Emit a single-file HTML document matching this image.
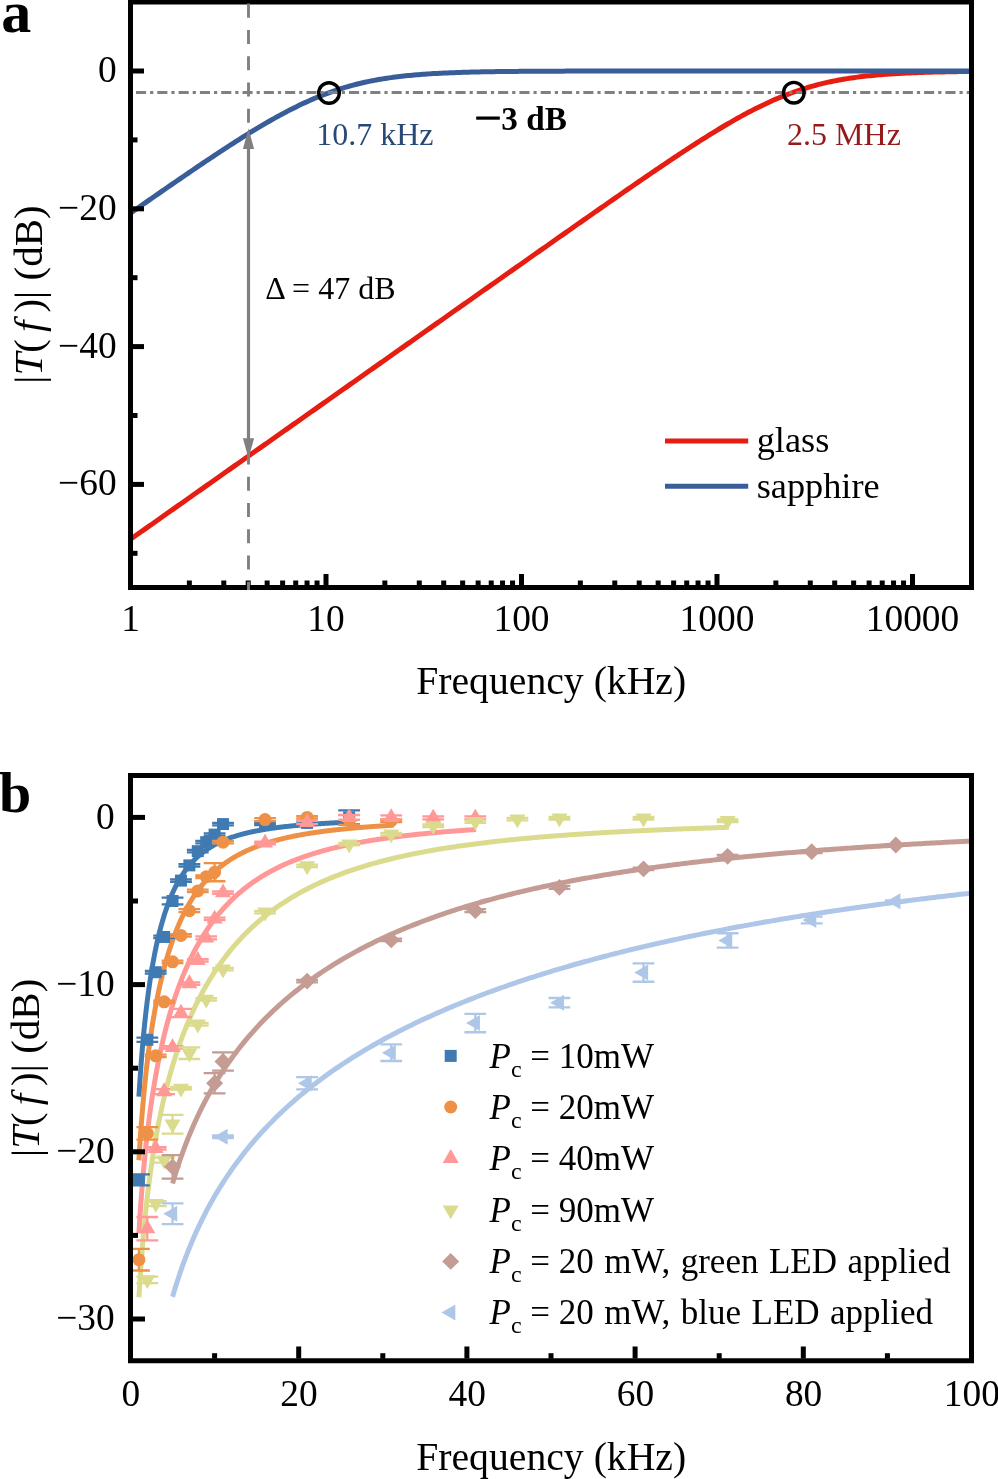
<!DOCTYPE html>
<html><head><meta charset="utf-8"><title>Figure</title>
<style>html,body{margin:0;padding:0;background:#fff;}body{width:998px;height:1479px;overflow:hidden;font-family:"Liberation Serif",serif;}</style>
</head><body>
<svg width="998" height="1479" viewBox="0 0 998 1479" style="display:block;will-change:transform">
<rect x="0" y="0" width="998" height="1479" fill="#ffffff"/>
<path d="M130.50 539.24 L132.60 537.75 L134.70 536.27 L136.81 534.79 L138.91 533.31 L141.01 531.83 L143.11 530.35 L145.21 528.86 L147.32 527.38 L149.42 525.90 L151.52 524.42 L153.62 522.94 L155.73 521.46 L157.83 519.97 L159.93 518.49 L162.03 517.01 L164.13 515.53 L166.24 514.05 L168.34 512.57 L170.44 511.08 L172.54 509.60 L174.64 508.12 L176.75 506.64 L178.85 505.16 L180.95 503.68 L183.05 502.19 L185.16 500.71 L187.26 499.23 L189.36 497.75 L191.46 496.27 L193.56 494.79 L195.67 493.30 L197.77 491.82 L199.87 490.34 L201.97 488.86 L204.07 487.38 L206.18 485.89 L208.28 484.41 L210.38 482.93 L212.48 481.45 L214.59 479.97 L216.69 478.49 L218.79 477.00 L220.89 475.52 L222.99 474.04 L225.10 472.56 L227.20 471.08 L229.30 469.60 L231.40 468.11 L233.50 466.63 L235.61 465.15 L237.71 463.67 L239.81 462.19 L241.91 460.71 L244.01 459.22 L246.12 457.74 L248.22 456.26 L250.32 454.78 L252.42 453.30 L254.53 451.82 L256.63 450.33 L258.73 448.85 L260.83 447.37 L262.93 445.89 L265.04 444.41 L267.14 442.93 L269.24 441.44 L271.34 439.96 L273.44 438.48 L275.55 437.00 L277.65 435.52 L279.75 434.04 L281.85 432.55 L283.96 431.07 L286.06 429.59 L288.16 428.11 L290.26 426.63 L292.36 425.15 L294.47 423.66 L296.57 422.18 L298.67 420.70 L300.77 419.22 L302.87 417.74 L304.98 416.25 L307.08 414.77 L309.18 413.29 L311.28 411.81 L313.39 410.33 L315.49 408.85 L317.59 407.36 L319.69 405.88 L321.79 404.40 L323.90 402.92 L326.00 401.44 L328.10 399.96 L330.20 398.47 L332.30 396.99 L334.41 395.51 L336.51 394.03 L338.61 392.55 L340.71 391.07 L342.81 389.58 L344.92 388.10 L347.02 386.62 L349.12 385.14 L351.22 383.66 L353.33 382.18 L355.43 380.69 L357.53 379.21 L359.63 377.73 L361.73 376.25 L363.84 374.77 L365.94 373.29 L368.04 371.80 L370.14 370.32 L372.24 368.84 L374.35 367.36 L376.45 365.88 L378.55 364.40 L380.65 362.91 L382.76 361.43 L384.86 359.95 L386.96 358.47 L389.06 356.99 L391.16 355.51 L393.27 354.03 L395.37 352.54 L397.47 351.06 L399.57 349.58 L401.67 348.10 L403.78 346.62 L405.88 345.14 L407.98 343.65 L410.08 342.17 L412.19 340.69 L414.29 339.21 L416.39 337.73 L418.49 336.25 L420.59 334.77 L422.70 333.28 L424.80 331.80 L426.90 330.32 L429.00 328.84 L431.10 327.36 L433.21 325.88 L435.31 324.40 L437.41 322.91 L439.51 321.43 L441.62 319.95 L443.72 318.47 L445.82 316.99 L447.92 315.51 L450.02 314.03 L452.13 312.54 L454.23 311.06 L456.33 309.58 L458.43 308.10 L460.53 306.62 L462.64 305.14 L464.74 303.66 L466.84 302.18 L468.94 300.70 L471.04 299.21 L473.15 297.73 L475.25 296.25 L477.35 294.77 L479.45 293.29 L481.56 291.81 L483.66 290.33 L485.76 288.85 L487.86 287.37 L489.96 285.89 L492.07 284.41 L494.17 282.93 L496.27 281.45 L498.37 279.97 L500.47 278.49 L502.58 277.01 L504.68 275.52 L506.78 274.04 L508.88 272.56 L510.99 271.08 L513.09 269.61 L515.19 268.13 L517.29 266.65 L519.39 265.17 L521.50 263.69 L523.60 262.21 L525.70 260.73 L527.80 259.25 L529.90 257.77 L532.01 256.29 L534.11 254.81 L536.21 253.33 L538.31 251.86 L540.42 250.38 L542.52 248.90 L544.62 247.42 L546.72 245.95 L548.82 244.47 L550.93 242.99 L553.03 241.51 L555.13 240.04 L557.23 238.56 L559.33 237.08 L561.44 235.61 L563.54 234.13 L565.64 232.66 L567.74 231.18 L569.84 229.71 L571.95 228.23 L574.05 226.76 L576.15 225.29 L578.25 223.81 L580.36 222.34 L582.46 220.87 L584.56 219.40 L586.66 217.93 L588.76 216.46 L590.87 214.99 L592.97 213.52 L595.07 212.05 L597.17 210.58 L599.27 209.11 L601.38 207.65 L603.48 206.18 L605.58 204.72 L607.68 203.25 L609.79 201.79 L611.89 200.33 L613.99 198.86 L616.09 197.40 L618.19 195.94 L620.30 194.49 L622.40 193.03 L624.50 191.57 L626.60 190.12 L628.70 188.66 L630.81 187.21 L632.91 185.76 L635.01 184.31 L637.11 182.87 L639.22 181.42 L641.32 179.98 L643.42 178.53 L645.52 177.09 L647.62 175.66 L649.73 174.22 L651.83 172.79 L653.93 171.36 L656.03 169.93 L658.13 168.50 L660.24 167.08 L662.34 165.66 L664.44 164.24 L666.54 162.83 L668.64 161.41 L670.75 160.01 L672.85 158.60 L674.95 157.20 L677.05 155.81 L679.16 154.41 L681.26 153.02 L683.36 151.64 L685.46 150.26 L687.56 148.89 L689.67 147.52 L691.77 146.15 L693.87 144.79 L695.97 143.44 L698.07 142.09 L700.18 140.75 L702.28 139.42 L704.38 138.09 L706.48 136.77 L708.59 135.46 L710.69 134.15 L712.79 132.85 L714.89 131.56 L716.99 130.28 L719.10 129.01 L721.20 127.74 L723.30 126.49 L725.40 125.24 L727.50 124.01 L729.61 122.79 L731.71 121.57 L733.81 120.37 L735.91 119.18 L738.02 118.00 L740.12 116.83 L742.22 115.68 L744.32 114.53 L746.42 113.40 L748.53 112.29 L750.63 111.19 L752.73 110.10 L754.83 109.03 L756.93 107.97 L759.04 106.92 L761.14 105.90 L763.24 104.88 L765.34 103.89 L767.44 102.91 L769.55 101.94 L771.65 101.00 L773.75 100.07 L775.85 99.16 L777.96 98.26 L780.06 97.38 L782.16 96.53 L784.26 95.68 L786.36 94.86 L788.47 94.06 L790.57 93.27 L792.67 92.50 L794.77 91.75 L796.87 91.02 L798.98 90.30 L801.08 89.61 L803.18 88.93 L805.28 88.27 L807.39 87.63 L809.49 87.01 L811.59 86.40 L813.69 85.82 L815.79 85.25 L817.90 84.69 L820.00 84.16 L822.10 83.64 L824.20 83.14 L826.30 82.65 L828.41 82.18 L830.51 81.73 L832.61 81.29 L834.71 80.87 L836.82 80.46 L838.92 80.06 L841.02 79.68 L843.12 79.32 L845.22 78.96 L847.33 78.62 L849.43 78.30 L851.53 77.98 L853.63 77.68 L855.73 77.39 L857.84 77.11 L859.94 76.84 L862.04 76.58 L864.14 76.34 L866.24 76.10 L868.35 75.87 L870.45 75.65 L872.55 75.45 L874.65 75.25 L876.76 75.05 L878.86 74.87 L880.96 74.69 L883.06 74.53 L885.16 74.36 L887.27 74.21 L889.37 74.06 L891.47 73.92 L893.57 73.79 L895.67 73.66 L897.78 73.53 L899.88 73.42 L901.98 73.30 L904.08 73.20 L906.19 73.10 L908.29 73.00 L910.39 72.90 L912.49 72.81 L914.59 72.73 L916.70 72.65 L918.80 72.57 L920.90 72.50 L923.00 72.43 L925.10 72.36 L927.21 72.29 L929.31 72.23 L931.41 72.17 L933.51 72.12 L935.62 72.07 L937.72 72.02 L939.82 71.97 L941.92 71.92 L944.02 71.88 L946.13 71.84 L948.23 71.80 L950.33 71.76 L952.43 71.72 L954.53 71.69 L956.64 71.65 L958.74 71.62 L960.84 71.59 L962.94 71.56 L965.04 71.54 L967.15 71.51 L969.25 71.49 L971.35 71.46" fill="none" stroke="#e61e12" stroke-width="5" stroke-linejoin="round"/>
<path d="M130.50 213.11 L132.60 211.64 L134.70 210.17 L136.81 208.71 L138.91 207.24 L141.01 205.77 L143.11 204.31 L145.21 202.84 L147.32 201.38 L149.42 199.92 L151.52 198.46 L153.62 197.00 L155.73 195.54 L157.83 194.08 L159.93 192.62 L162.03 191.17 L164.13 189.71 L166.24 188.26 L168.34 186.81 L170.44 185.36 L172.54 183.91 L174.64 182.46 L176.75 181.02 L178.85 179.58 L180.95 178.13 L183.05 176.69 L185.16 175.26 L187.26 173.82 L189.36 172.39 L191.46 170.96 L193.56 169.53 L195.67 168.11 L197.77 166.68 L199.87 165.26 L201.97 163.85 L204.07 162.43 L206.18 161.02 L208.28 159.62 L210.38 158.21 L212.48 156.81 L214.59 155.42 L216.69 154.03 L218.79 152.64 L220.89 151.26 L222.99 149.88 L225.10 148.51 L227.20 147.14 L229.30 145.77 L231.40 144.42 L233.50 143.07 L235.61 141.72 L237.71 140.38 L239.81 139.05 L241.91 137.72 L244.01 136.40 L246.12 135.09 L248.22 133.79 L250.32 132.49 L252.42 131.21 L254.53 129.93 L256.63 128.66 L258.73 127.39 L260.83 126.14 L262.93 124.90 L265.04 123.67 L267.14 122.45 L269.24 121.24 L271.34 120.04 L273.44 118.85 L275.55 117.67 L277.65 116.51 L279.75 115.36 L281.85 114.22 L283.96 113.09 L286.06 111.98 L288.16 110.88 L290.26 109.80 L292.36 108.73 L294.47 107.68 L296.57 106.64 L298.67 105.61 L300.77 104.60 L302.87 103.61 L304.98 102.64 L307.08 101.68 L309.18 100.74 L311.28 99.81 L313.39 98.91 L315.49 98.02 L317.59 97.14 L319.69 96.29 L321.79 95.45 L323.90 94.63 L326.00 93.83 L328.10 93.05 L330.20 92.29 L332.30 91.54 L334.41 90.82 L336.51 90.11 L338.61 89.42 L340.71 88.75 L342.81 88.09 L344.92 87.46 L347.02 86.84 L349.12 86.24 L351.22 85.66 L353.33 85.09 L355.43 84.54 L357.53 84.01 L359.63 83.50 L361.73 83.00 L363.84 82.52 L365.94 82.05 L368.04 81.60 L370.14 81.17 L372.24 80.75 L374.35 80.35 L376.45 79.95 L378.55 79.58 L380.65 79.22 L382.76 78.87 L384.86 78.53 L386.96 78.21 L389.06 77.90 L391.16 77.60 L393.27 77.31 L395.37 77.03 L397.47 76.77 L399.57 76.51 L401.67 76.27 L403.78 76.04 L405.88 75.81 L407.98 75.60 L410.08 75.39 L412.19 75.19 L414.29 75.00 L416.39 74.82 L418.49 74.65 L420.59 74.48 L422.70 74.32 L424.80 74.17 L426.90 74.02 L429.00 73.88 L431.10 73.75 L433.21 73.62 L435.31 73.50 L437.41 73.39 L439.51 73.27 L441.62 73.17 L443.72 73.07 L445.82 72.97 L447.92 72.88 L450.02 72.79 L452.13 72.71 L454.23 72.63 L456.33 72.55 L458.43 72.48 L460.53 72.41 L462.64 72.34 L464.74 72.28 L466.84 72.22 L468.94 72.16 L471.04 72.10 L473.15 72.05 L475.25 72.00 L477.35 71.95 L479.45 71.91 L481.56 71.87 L483.66 71.82 L485.76 71.78 L487.86 71.75 L489.96 71.71 L492.07 71.68 L494.17 71.65 L496.27 71.61 L498.37 71.58 L500.47 71.56 L502.58 71.53 L504.68 71.50 L506.78 71.48 L508.88 71.46 L510.99 71.44 L513.09 71.41 L515.19 71.39 L517.29 71.38 L519.39 71.36 L521.50 71.34 L523.60 71.32 L525.70 71.31 L527.80 71.29 L529.90 71.28 L532.01 71.27 L534.11 71.25 L536.21 71.24 L538.31 71.23 L540.42 71.22 L542.52 71.21 L544.62 71.20 L546.72 71.19 L548.82 71.18 L550.93 71.17 L553.03 71.16 L555.13 71.15 L557.23 71.15 L559.33 71.14 L561.44 71.13 L563.54 71.13 L565.64 71.12 L567.74 71.12 L569.84 71.11 L571.95 71.10 L574.05 71.10 L576.15 71.09 L578.25 71.09 L580.36 71.09 L582.46 71.08 L584.56 71.08 L586.66 71.07 L588.76 71.07 L590.87 71.07 L592.97 71.06 L595.07 71.06 L597.17 71.06 L599.27 71.05 L601.38 71.05 L603.48 71.05 L605.58 71.05 L607.68 71.04 L609.79 71.04 L611.89 71.04 L613.99 71.04 L616.09 71.04 L618.19 71.04 L620.30 71.03 L622.40 71.03 L624.50 71.03 L626.60 71.03 L628.70 71.03 L630.81 71.03 L632.91 71.02 L635.01 71.02 L637.11 71.02 L639.22 71.02 L641.32 71.02 L643.42 71.02 L645.52 71.02 L647.62 71.02 L649.73 71.02 L651.83 71.02 L653.93 71.02 L656.03 71.01 L658.13 71.01 L660.24 71.01 L662.34 71.01 L664.44 71.01 L666.54 71.01 L668.64 71.01 L670.75 71.01 L672.85 71.01 L674.95 71.01 L677.05 71.01 L679.16 71.01 L681.26 71.01 L683.36 71.01 L685.46 71.01 L687.56 71.01 L689.67 71.01 L691.77 71.01 L693.87 71.01 L695.97 71.01 L698.07 71.01 L700.18 71.01 L702.28 71.00 L704.38 71.00 L706.48 71.00 L708.59 71.00 L710.69 71.00 L712.79 71.00 L714.89 71.00 L716.99 71.00 L719.10 71.00 L721.20 71.00 L723.30 71.00 L725.40 71.00 L727.50 71.00 L729.61 71.00 L731.71 71.00 L733.81 71.00 L735.91 71.00 L738.02 71.00 L740.12 71.00 L742.22 71.00 L744.32 71.00 L746.42 71.00 L748.53 71.00 L750.63 71.00 L752.73 71.00 L754.83 71.00 L756.93 71.00 L759.04 71.00 L761.14 71.00 L763.24 71.00 L765.34 71.00 L767.44 71.00 L769.55 71.00 L771.65 71.00 L773.75 71.00 L775.85 71.00 L777.96 71.00 L780.06 71.00 L782.16 71.00 L784.26 71.00 L786.36 71.00 L788.47 71.00 L790.57 71.00 L792.67 71.00 L794.77 71.00 L796.87 71.00 L798.98 71.00 L801.08 71.00 L803.18 71.00 L805.28 71.00 L807.39 71.00 L809.49 71.00 L811.59 71.00 L813.69 71.00 L815.79 71.00 L817.90 71.00 L820.00 71.00 L822.10 71.00 L824.20 71.00 L826.30 71.00 L828.41 71.00 L830.51 71.00 L832.61 71.00 L834.71 71.00 L836.82 71.00 L838.92 71.00 L841.02 71.00 L843.12 71.00 L845.22 71.00 L847.33 71.00 L849.43 71.00 L851.53 71.00 L853.63 71.00 L855.73 71.00 L857.84 71.00 L859.94 71.00 L862.04 71.00 L864.14 71.00 L866.24 71.00 L868.35 71.00 L870.45 71.00 L872.55 71.00 L874.65 71.00 L876.76 71.00 L878.86 71.00 L880.96 71.00 L883.06 71.00 L885.16 71.00 L887.27 71.00 L889.37 71.00 L891.47 71.00 L893.57 71.00 L895.67 71.00 L897.78 71.00 L899.88 71.00 L901.98 71.00 L904.08 71.00 L906.19 71.00 L908.29 71.00 L910.39 71.00 L912.49 71.00 L914.59 71.00 L916.70 71.00 L918.80 71.00 L920.90 71.00 L923.00 71.00 L925.10 71.00 L927.21 71.00 L929.31 71.00 L931.41 71.00 L933.51 71.00 L935.62 71.00 L937.72 71.00 L939.82 71.00 L941.92 71.00 L944.02 71.00 L946.13 71.00 L948.23 71.00 L950.33 71.00 L952.43 71.00 L954.53 71.00 L956.64 71.00 L958.74 71.00 L960.84 71.00 L962.94 71.00 L965.04 71.00 L967.15 71.00 L969.25 71.00 L971.35 71.00" fill="none" stroke="#385d98" stroke-width="5" stroke-linejoin="round"/>
<line x1="136" y1="92.5" x2="969" y2="92.5" stroke="#808080" stroke-width="2.8" stroke-dasharray="10.1 4 3.2 4"/>
<rect x="130.50" y="2.00" width="841.00" height="585.50" fill="none" stroke="#000" stroke-width="5"/>
<rect x="133" y="68.50" width="11" height="5" fill="#000"/>
<rect x="133" y="206.30" width="11" height="5" fill="#000"/>
<rect x="133" y="344.10" width="11" height="5" fill="#000"/>
<rect x="133" y="481.90" width="11" height="5" fill="#000"/>
<rect x="133" y="137.40" width="4.5" height="5" fill="#000"/>
<rect x="133" y="275.20" width="4.5" height="5" fill="#000"/>
<rect x="133" y="413.00" width="4.5" height="5" fill="#000"/>
<rect x="133" y="550.80" width="4.5" height="5" fill="#000"/>
<rect x="186.85" y="580.5" width="5" height="5" fill="#000"/>
<rect x="221.28" y="580.5" width="5" height="5" fill="#000"/>
<rect x="245.70" y="580.5" width="5" height="5" fill="#000"/>
<rect x="264.65" y="580.5" width="5" height="5" fill="#000"/>
<rect x="280.13" y="580.5" width="5" height="5" fill="#000"/>
<rect x="293.22" y="580.5" width="5" height="5" fill="#000"/>
<rect x="304.55" y="580.5" width="5" height="5" fill="#000"/>
<rect x="314.55" y="580.5" width="5" height="5" fill="#000"/>
<rect x="323.50" y="574" width="5" height="12" fill="#000"/>
<rect x="382.35" y="580.5" width="5" height="5" fill="#000"/>
<rect x="416.78" y="580.5" width="5" height="5" fill="#000"/>
<rect x="441.20" y="580.5" width="5" height="5" fill="#000"/>
<rect x="460.15" y="580.5" width="5" height="5" fill="#000"/>
<rect x="475.63" y="580.5" width="5" height="5" fill="#000"/>
<rect x="488.72" y="580.5" width="5" height="5" fill="#000"/>
<rect x="500.05" y="580.5" width="5" height="5" fill="#000"/>
<rect x="510.05" y="580.5" width="5" height="5" fill="#000"/>
<rect x="519.00" y="574" width="5" height="12" fill="#000"/>
<rect x="577.85" y="580.5" width="5" height="5" fill="#000"/>
<rect x="612.28" y="580.5" width="5" height="5" fill="#000"/>
<rect x="636.70" y="580.5" width="5" height="5" fill="#000"/>
<rect x="655.65" y="580.5" width="5" height="5" fill="#000"/>
<rect x="671.13" y="580.5" width="5" height="5" fill="#000"/>
<rect x="684.22" y="580.5" width="5" height="5" fill="#000"/>
<rect x="695.55" y="580.5" width="5" height="5" fill="#000"/>
<rect x="705.55" y="580.5" width="5" height="5" fill="#000"/>
<rect x="714.50" y="574" width="5" height="12" fill="#000"/>
<rect x="773.35" y="580.5" width="5" height="5" fill="#000"/>
<rect x="807.78" y="580.5" width="5" height="5" fill="#000"/>
<rect x="832.20" y="580.5" width="5" height="5" fill="#000"/>
<rect x="851.15" y="580.5" width="5" height="5" fill="#000"/>
<rect x="866.63" y="580.5" width="5" height="5" fill="#000"/>
<rect x="879.72" y="580.5" width="5" height="5" fill="#000"/>
<rect x="891.05" y="580.5" width="5" height="5" fill="#000"/>
<rect x="901.05" y="580.5" width="5" height="5" fill="#000"/>
<rect x="910.00" y="574" width="5" height="12" fill="#000"/>
<line x1="248.50" y1="3.6" x2="248.50" y2="590" stroke="#808080" stroke-width="2.9" stroke-dasharray="14.1 12.18"/>
<line x1="248.50" y1="140" x2="248.50" y2="445" stroke="#808080" stroke-width="3.2"/>
<path d="M248.50 128.5 L242.90 149 L254.10 149 Z" fill="#808080"/>
<path d="M248.50 458.5 L242.90 438.2 L254.10 438.2 Z" fill="#808080"/>
<circle cx="329" cy="93" r="10.3" fill="none" stroke="#000" stroke-width="3.4"/>
<circle cx="793.8" cy="92.7" r="10.3" fill="none" stroke="#000" stroke-width="3.4"/>
<text x="116.60" y="82.00" font-family='"Liberation Serif", serif' font-size="37.40" text-anchor="end" fill="#000" font-weight="normal" font-style="normal" >0</text>
<text x="116.60" y="219.80" font-family='"Liberation Serif", serif' font-size="37.40" text-anchor="end" fill="#000" font-weight="normal" font-style="normal" >−20</text>
<text x="116.60" y="357.60" font-family='"Liberation Serif", serif' font-size="37.40" text-anchor="end" fill="#000" font-weight="normal" font-style="normal" >−40</text>
<text x="116.60" y="495.40" font-family='"Liberation Serif", serif' font-size="37.40" text-anchor="end" fill="#000" font-weight="normal" font-style="normal" >−60</text>
<text x="130.50" y="630.80" font-family='"Liberation Serif", serif' font-size="37.40" text-anchor="middle" fill="#000" font-weight="normal" font-style="normal" >1</text>
<text x="326.00" y="630.80" font-family='"Liberation Serif", serif' font-size="37.40" text-anchor="middle" fill="#000" font-weight="normal" font-style="normal" >10</text>
<text x="521.50" y="630.80" font-family='"Liberation Serif", serif' font-size="37.40" text-anchor="middle" fill="#000" font-weight="normal" font-style="normal" >100</text>
<text x="717.00" y="630.80" font-family='"Liberation Serif", serif' font-size="37.40" text-anchor="middle" fill="#000" font-weight="normal" font-style="normal" >1000</text>
<text x="912.50" y="630.80" font-family='"Liberation Serif", serif' font-size="37.40" text-anchor="middle" fill="#000" font-weight="normal" font-style="normal" >10000</text>
<text x="551.20" y="693.80" font-family='"Liberation Serif", serif' font-size="39.70" text-anchor="middle" fill="#000" font-weight="normal" font-style="normal" >Frequency (kHz)</text>
<g transform="translate(41.50 294.50) rotate(-90)">
<text x="0" y="0" font-family='"Liberation Serif", serif' font-size="41" text-anchor="middle" fill="#000">|<tspan font-style="italic">T</tspan>(<tspan font-style="italic" dx="7">f</tspan><tspan dx="8">)</tspan>| (dB)</text>
</g>
<text x="316.20" y="144.70" font-family='"Liberation Serif", serif' font-size="32.00" text-anchor="start" fill="#284876" font-weight="normal" font-style="normal" >10.7 kHz</text>
<text x="787.10" y="144.70" font-family='"Liberation Serif", serif' font-size="32.00" text-anchor="start" fill="#961a1a" font-weight="normal" font-style="normal" >2.5 MHz</text>
<rect x="476.2" y="116.5" width="23.6" height="3.2" fill="#000"/>
<text x="501.30" y="129.60" font-family='"Liberation Serif", serif' font-size="33.20" text-anchor="start" fill="#000" font-weight="bold" font-style="normal" >3 dB</text>
<text x="265.30" y="299.40" font-family='"Liberation Serif", serif' font-size="32.00" text-anchor="start" fill="#000" font-weight="normal" font-style="normal" >Δ = 47 dB</text>
<line x1="665" y1="441.0" x2="748.2" y2="441.0" stroke="#e61e12" stroke-width="5"/>
<line x1="665" y1="486.3" x2="748.2" y2="486.3" stroke="#385d98" stroke-width="5"/>
<text x="756.70" y="452.10" font-family='"Liberation Serif", serif' font-size="36.30" text-anchor="start" fill="#000" font-weight="normal" font-style="normal" >glass</text>
<text x="756.70" y="497.70" font-family='"Liberation Serif", serif' font-size="36.30" text-anchor="start" fill="#000" font-weight="normal" font-style="normal" >sapphire</text>
<text x="1.30" y="32.20" font-family='"Liberation Serif", serif' font-size="60.00" text-anchor="start" fill="#000" font-weight="bold" font-style="normal" >a</text>
<clipPath id="cb"><rect x="127.50" y="775.50" width="844.00" height="585.25"/></clipPath>
<g clip-path="url(#cb)">
<path d="M138.91 1096.72 L139.61 1085.36 L140.31 1074.89 L141.01 1065.18 L141.71 1056.13 L142.41 1047.68 L143.12 1039.74 L143.82 1032.28 L144.52 1025.24 L145.22 1018.57 L145.92 1012.26 L146.62 1006.26 L147.32 1000.56 L148.02 995.13 L148.72 989.94 L149.42 984.99 L150.12 980.25 L150.82 975.71 L151.53 971.36 L152.23 967.19 L152.93 963.18 L153.63 959.33 L154.33 955.62 L155.03 952.05 L155.73 948.62 L156.43 945.31 L157.13 942.11 L157.83 939.03 L158.53 936.06 L159.23 933.19 L159.94 930.41 L160.64 927.73 L161.34 925.13 L162.04 922.62 L162.74 920.19 L163.44 917.84 L164.14 915.56 L164.84 913.36 L165.54 911.22 L166.24 909.14 L166.94 907.13 L167.64 905.18 L168.34 903.28 L169.05 901.45 L169.75 899.66 L170.45 897.93 L171.15 896.25 L171.85 894.61 L172.55 893.02 L173.25 891.48 L173.95 889.98 L174.65 888.52 L175.35 887.10 L176.05 885.72 L176.75 884.37 L177.46 883.07 L178.16 881.79 L178.86 880.55 L179.56 879.35 L180.26 878.17 L180.96 877.03 L181.66 875.91 L182.36 874.83 L183.06 873.77 L183.76 872.73 L184.46 871.73 L185.16 870.75 L185.87 869.79 L186.57 868.86 L187.27 867.95 L187.97 867.06 L188.67 866.19 L189.37 865.35 L190.07 864.52 L190.77 863.72 L191.47 862.93 L192.17 862.16 L192.87 861.41 L193.57 860.68 L194.28 859.96 L194.98 859.26 L195.68 858.58 L196.38 857.91 L197.08 857.26 L197.78 856.62 L198.48 855.99 L199.18 855.38 L199.88 854.79 L200.58 854.20 L201.28 853.63 L201.99 853.07 L202.69 852.53 L203.39 851.99 L204.09 851.47 L204.79 850.95 L205.49 850.45 L206.19 849.96 L206.89 849.48 L207.59 849.01 L208.29 848.55 L208.99 848.10 L209.69 847.65 L210.39 847.22 L211.10 846.80 L211.80 846.38 L212.50 845.97 L213.20 845.57 L213.90 845.18 L214.60 844.80 L215.30 844.42 L216.00 844.05 L216.70 843.69 L217.40 843.33 L218.10 842.99 L218.81 842.64 L219.51 842.31 L220.21 841.98 L220.91 841.66 L221.61 841.34 L222.31 841.03 L223.01 840.72 L223.71 840.42 L224.41 840.13 L225.11 839.84 L225.81 839.56 L226.51 839.28 L227.22 839.01 L227.92 838.74 L228.62 838.47 L229.32 838.22 L230.02 837.96 L230.72 837.71 L231.42 837.47 L232.12 837.22 L232.82 836.99 L233.52 836.75 L234.22 836.52 L234.92 836.30 L235.62 836.08 L236.33 835.86 L237.03 835.65 L237.73 835.44 L238.43 835.23 L239.13 835.02 L239.83 834.82 L240.53 834.63 L241.23 834.43 L241.93 834.24 L242.63 834.06 L243.33 833.87 L244.03 833.69 L244.74 833.51 L245.44 833.33 L246.14 833.16 L246.84 832.99 L247.54 832.82 L248.24 832.66 L248.94 832.50 L249.64 832.34 L250.34 832.18 L251.04 832.02 L251.74 831.87 L252.44 831.72 L253.15 831.57 L253.85 831.43 L254.55 831.28 L255.25 831.14 L255.95 831.00 L256.65 830.86 L257.35 830.73 L258.05 830.59 L258.75 830.46 L259.45 830.33 L260.15 830.20 L260.86 830.08 L261.56 829.95 L262.26 829.83 L262.96 829.71 L263.66 829.59 L264.36 829.47 L265.06 829.36 L265.76 829.25 L266.46 829.13 L267.16 829.02 L267.86 828.91 L268.56 828.80 L269.26 828.70 L269.97 828.59 L270.67 828.49 L271.37 828.39 L272.07 828.29 L272.77 828.19 L273.47 828.09 L274.17 827.99 L274.87 827.90 L275.57 827.80 L276.27 827.71 L276.97 827.62 L277.68 827.53 L278.38 827.44 L279.08 827.35 L279.78 827.26 L280.48 827.18 L281.18 827.09 L281.88 827.01 L282.58 826.92 L283.28 826.84 L283.98 826.76 L284.68 826.68 L285.38 826.60 L286.09 826.53 L286.79 826.45 L287.49 826.37 L288.19 826.30 L288.89 826.22 L289.59 826.15 L290.29 826.08 L290.99 826.01 L291.69 825.94 L292.39 825.87 L293.09 825.80 L293.79 825.73 L294.50 825.66 L295.20 825.60 L295.90 825.53 L296.60 825.47 L297.30 825.40 L298.00 825.34 L298.70 825.28 L299.40 825.22 L300.10 825.15 L300.80 825.09 L301.50 825.03 L302.20 824.97 L302.90 824.92 L303.61 824.86 L304.31 824.80 L305.01 824.75 L305.71 824.69 L306.41 824.63 L307.11 824.58 L307.81 824.53 L308.51 824.47 L309.21 824.42 L309.91 824.37 L310.61 824.32 L311.31 824.26 L312.02 824.21 L312.72 824.16 L313.42 824.11 L314.12 824.07 L314.82 824.02 L315.52 823.97 L316.22 823.92 L316.92 823.88 L317.62 823.83 L318.32 823.78 L319.02 823.74 L319.73 823.69 L320.43 823.65 L321.13 823.60 L321.83 823.56 L322.53 823.52 L323.23 823.48 L323.93 823.43 L324.63 823.39 L325.33 823.35 L326.03 823.31 L326.73 823.27 L327.43 823.23 L328.13 823.19 L328.84 823.15 L329.54 823.11 L330.24 823.07 L330.94 823.03 L331.64 823.00 L332.34 822.96 L333.04 822.92 L333.74 822.89 L334.44 822.85 L335.14 822.81 L335.84 822.78 L336.55 822.74 L337.25 822.71 L337.95 822.67 L338.65 822.64 L339.35 822.61 L340.05 822.57 L340.75 822.54 L341.45 822.51 L342.15 822.47 L342.85 822.44 L343.55 822.41 L344.25 822.38 L344.96 822.35 L345.66 822.31 L346.36 822.28 L347.06 822.25 L347.76 822.22 L348.46 822.19 L349.16 822.16" fill="none" stroke="#407ab2" stroke-width="5" stroke-linejoin="round"/>
<path d="M138.91 1160.23 L139.76 1146.39 L140.61 1133.79 L141.46 1122.24 L142.31 1111.57 L143.16 1101.67 L144.01 1092.44 L144.86 1083.79 L145.71 1075.67 L146.55 1068.01 L147.40 1060.78 L148.25 1053.92 L149.10 1047.40 L149.95 1041.20 L150.80 1035.29 L151.65 1029.65 L152.50 1024.25 L153.35 1019.08 L154.20 1014.12 L155.05 1009.36 L155.90 1004.78 L156.75 1000.38 L157.60 996.13 L158.45 992.04 L159.30 988.10 L160.15 984.29 L160.99 980.61 L161.84 977.05 L162.69 973.61 L163.54 970.28 L164.39 967.05 L165.24 963.92 L166.09 960.89 L166.94 957.95 L167.79 955.10 L168.64 952.33 L169.49 949.64 L170.34 947.02 L171.19 944.48 L172.04 942.01 L172.89 939.61 L173.74 937.27 L174.59 935.00 L175.43 932.78 L176.28 930.63 L177.13 928.53 L177.98 926.48 L178.83 924.49 L179.68 922.54 L180.53 920.65 L181.38 918.80 L182.23 917.00 L183.08 915.24 L183.93 913.53 L184.78 911.85 L185.63 910.22 L186.48 908.62 L187.33 907.07 L188.18 905.54 L189.03 904.06 L189.87 902.61 L190.72 901.19 L191.57 899.80 L192.42 898.45 L193.27 897.12 L194.12 895.83 L194.97 894.56 L195.82 893.32 L196.67 892.11 L197.52 890.93 L198.37 889.77 L199.22 888.63 L200.07 887.52 L200.92 886.44 L201.77 885.37 L202.62 884.33 L203.47 883.31 L204.31 882.31 L205.16 881.34 L206.01 880.38 L206.86 879.44 L207.71 878.52 L208.56 877.62 L209.41 876.74 L210.26 875.88 L211.11 875.03 L211.96 874.20 L212.81 873.39 L213.66 872.59 L214.51 871.81 L215.36 871.04 L216.21 870.29 L217.06 869.55 L217.91 868.83 L218.75 868.12 L219.60 867.42 L220.45 866.74 L221.30 866.07 L222.15 865.41 L223.00 864.77 L223.85 864.14 L224.70 863.51 L225.55 862.90 L226.40 862.31 L227.25 861.72 L228.10 861.14 L228.95 860.57 L229.80 860.02 L230.65 859.47 L231.50 858.93 L232.35 858.41 L233.19 857.89 L234.04 857.38 L234.89 856.88 L235.74 856.39 L236.59 855.91 L237.44 855.43 L238.29 854.97 L239.14 854.51 L239.99 854.06 L240.84 853.61 L241.69 853.18 L242.54 852.75 L243.39 852.33 L244.24 851.92 L245.09 851.51 L245.94 851.11 L246.79 850.72 L247.63 850.33 L248.48 849.95 L249.33 849.57 L250.18 849.20 L251.03 848.84 L251.88 848.48 L252.73 848.13 L253.58 847.79 L254.43 847.45 L255.28 847.11 L256.13 846.78 L256.98 846.46 L257.83 846.14 L258.68 845.83 L259.53 845.52 L260.38 845.21 L261.23 844.91 L262.07 844.62 L262.92 844.33 L263.77 844.04 L264.62 843.76 L265.47 843.48 L266.32 843.21 L267.17 842.94 L268.02 842.67 L268.87 842.41 L269.72 842.15 L270.57 841.90 L271.42 841.65 L272.27 841.40 L273.12 841.16 L273.97 840.92 L274.82 840.68 L275.67 840.45 L276.51 840.22 L277.36 839.99 L278.21 839.77 L279.06 839.55 L279.91 839.33 L280.76 839.12 L281.61 838.91 L282.46 838.70 L283.31 838.50 L284.16 838.29 L285.01 838.09 L285.86 837.90 L286.71 837.70 L287.56 837.51 L288.41 837.32 L289.26 837.14 L290.10 836.95 L290.95 836.77 L291.80 836.59 L292.65 836.42 L293.50 836.24 L294.35 836.07 L295.20 835.90 L296.05 835.73 L296.90 835.57 L297.75 835.41 L298.60 835.25 L299.45 835.09 L300.30 834.93 L301.15 834.77 L302.00 834.62 L302.85 834.47 L303.70 834.32 L304.54 834.18 L305.39 834.03 L306.24 833.89 L307.09 833.74 L307.94 833.60 L308.79 833.47 L309.64 833.33 L310.49 833.20 L311.34 833.06 L312.19 832.93 L313.04 832.80 L313.89 832.67 L314.74 832.55 L315.59 832.42 L316.44 832.30 L317.29 832.17 L318.14 832.05 L318.98 831.93 L319.83 831.82 L320.68 831.70 L321.53 831.58 L322.38 831.47 L323.23 831.36 L324.08 831.25 L324.93 831.14 L325.78 831.03 L326.63 830.92 L327.48 830.81 L328.33 830.71 L329.18 830.60 L330.03 830.50 L330.88 830.40 L331.73 830.30 L332.58 830.20 L333.42 830.10 L334.27 830.01 L335.12 829.91 L335.97 829.82 L336.82 829.72 L337.67 829.63 L338.52 829.54 L339.37 829.45 L340.22 829.36 L341.07 829.27 L341.92 829.18 L342.77 829.09 L343.62 829.01 L344.47 828.92 L345.32 828.84 L346.17 828.75 L347.02 828.67 L347.86 828.59 L348.71 828.51 L349.56 828.43 L350.41 828.35 L351.26 828.27 L352.11 828.20 L352.96 828.12 L353.81 828.04 L354.66 827.97 L355.51 827.89 L356.36 827.82 L357.21 827.75 L358.06 827.68 L358.91 827.61 L359.76 827.53 L360.61 827.47 L361.46 827.40 L362.30 827.33 L363.15 827.26 L364.00 827.19 L364.85 827.13 L365.70 827.06 L366.55 827.00 L367.40 826.93 L368.25 826.87 L369.10 826.80 L369.95 826.74 L370.80 826.68 L371.65 826.62 L372.50 826.56 L373.35 826.50 L374.20 826.44 L375.05 826.38 L375.90 826.32 L376.74 826.26 L377.59 826.21 L378.44 826.15 L379.29 826.09 L380.14 826.04 L380.99 825.98 L381.84 825.93 L382.69 825.87 L383.54 825.82 L384.39 825.77 L385.24 825.71 L386.09 825.66 L386.94 825.61 L387.79 825.56 L388.64 825.51 L389.49 825.46 L390.34 825.41 L391.18 825.36 L392.03 825.31 L392.88 825.26 L393.73 825.21" fill="none" stroke="#ee9146" stroke-width="5" stroke-linejoin="round"/>
<path d="M138.91 1233.31 L140.03 1215.16 L141.16 1199.05 L142.28 1184.57 L143.41 1171.43 L144.53 1159.40 L145.65 1148.31 L146.78 1138.04 L147.90 1128.47 L149.03 1119.51 L150.15 1111.10 L151.28 1103.17 L152.40 1095.67 L153.52 1088.57 L154.65 1081.82 L155.77 1075.39 L156.90 1069.26 L158.02 1063.40 L159.14 1057.79 L160.27 1052.41 L161.39 1047.25 L162.52 1042.28 L163.64 1037.51 L164.77 1032.90 L165.89 1028.46 L167.01 1024.18 L168.14 1020.04 L169.26 1016.03 L170.39 1012.16 L171.51 1008.40 L172.63 1004.77 L173.76 1001.24 L174.88 997.82 L176.01 994.49 L177.13 991.27 L178.25 988.13 L179.38 985.08 L180.50 982.11 L181.63 979.22 L182.75 976.41 L183.88 973.67 L185.00 971.00 L186.12 968.40 L187.25 965.87 L188.37 963.39 L189.50 960.98 L190.62 958.63 L191.74 956.33 L192.87 954.08 L193.99 951.89 L195.12 949.74 L196.24 947.65 L197.37 945.60 L198.49 943.60 L199.61 941.64 L200.74 939.73 L201.86 937.86 L202.99 936.03 L204.11 934.23 L205.23 932.48 L206.36 930.76 L207.48 929.08 L208.61 927.43 L209.73 925.81 L210.85 924.23 L211.98 922.68 L213.10 921.17 L214.23 919.68 L215.35 918.22 L216.48 916.79 L217.60 915.39 L218.72 914.01 L219.85 912.66 L220.97 911.34 L222.10 910.04 L223.22 908.77 L224.34 907.52 L225.47 906.30 L226.59 905.10 L227.72 903.92 L228.84 902.76 L229.97 901.62 L231.09 900.50 L232.21 899.41 L233.34 898.33 L234.46 897.27 L235.59 896.24 L236.71 895.22 L237.83 894.21 L238.96 893.23 L240.08 892.26 L241.21 891.31 L242.33 890.38 L243.45 889.46 L244.58 888.56 L245.70 887.67 L246.83 886.80 L247.95 885.95 L249.08 885.10 L250.20 884.28 L251.32 883.46 L252.45 882.66 L253.57 881.87 L254.70 881.10 L255.82 880.34 L256.94 879.59 L258.07 878.85 L259.19 878.13 L260.32 877.42 L261.44 876.71 L262.57 876.02 L263.69 875.34 L264.81 874.68 L265.94 874.02 L267.06 873.37 L268.19 872.73 L269.31 872.11 L270.43 871.49 L271.56 870.88 L272.68 870.28 L273.81 869.69 L274.93 869.11 L276.05 868.54 L277.18 867.98 L278.30 867.42 L279.43 866.88 L280.55 866.34 L281.68 865.81 L282.80 865.29 L283.92 864.78 L285.05 864.27 L286.17 863.77 L287.30 863.28 L288.42 862.80 L289.54 862.32 L290.67 861.85 L291.79 861.39 L292.92 860.93 L294.04 860.48 L295.16 860.04 L296.29 859.60 L297.41 859.17 L298.54 858.74 L299.66 858.32 L300.79 857.91 L301.91 857.50 L303.03 857.10 L304.16 856.71 L305.28 856.32 L306.41 855.93 L307.53 855.55 L308.65 855.18 L309.78 854.81 L310.90 854.44 L312.03 854.09 L313.15 853.73 L314.28 853.38 L315.40 853.04 L316.52 852.70 L317.65 852.36 L318.77 852.03 L319.90 851.70 L321.02 851.38 L322.14 851.06 L323.27 850.75 L324.39 850.44 L325.52 850.13 L326.64 849.83 L327.76 849.53 L328.89 849.24 L330.01 848.95 L331.14 848.66 L332.26 848.38 L333.39 848.10 L334.51 847.83 L335.63 847.55 L336.76 847.28 L337.88 847.02 L339.01 846.76 L340.13 846.50 L341.25 846.24 L342.38 845.99 L343.50 845.74 L344.63 845.49 L345.75 845.25 L346.88 845.01 L348.00 844.77 L349.12 844.54 L350.25 844.31 L351.37 844.08 L352.50 843.85 L353.62 843.63 L354.74 843.41 L355.87 843.19 L356.99 842.98 L358.12 842.76 L359.24 842.55 L360.36 842.35 L361.49 842.14 L362.61 841.94 L363.74 841.74 L364.86 841.54 L365.99 841.34 L367.11 841.15 L368.23 840.96 L369.36 840.77 L370.48 840.58 L371.61 840.40 L372.73 840.21 L373.85 840.03 L374.98 839.86 L376.10 839.68 L377.23 839.50 L378.35 839.33 L379.48 839.16 L380.60 838.99 L381.72 838.83 L382.85 838.66 L383.97 838.50 L385.10 838.34 L386.22 838.18 L387.34 838.02 L388.47 837.86 L389.59 837.71 L390.72 837.55 L391.84 837.40 L392.96 837.25 L394.09 837.10 L395.21 836.96 L396.34 836.81 L397.46 836.67 L398.59 836.53 L399.71 836.39 L400.83 836.25 L401.96 836.11 L403.08 835.98 L404.21 835.84 L405.33 835.71 L406.45 835.58 L407.58 835.45 L408.70 835.32 L409.83 835.19 L410.95 835.06 L412.08 834.94 L413.20 834.81 L414.32 834.69 L415.45 834.57 L416.57 834.45 L417.70 834.33 L418.82 834.21 L419.94 834.10 L421.07 833.98 L422.19 833.87 L423.32 833.76 L424.44 833.64 L425.56 833.53 L426.69 833.42 L427.81 833.31 L428.94 833.21 L430.06 833.10 L431.19 833.00 L432.31 832.89 L433.43 832.79 L434.56 832.69 L435.68 832.58 L436.81 832.48 L437.93 832.38 L439.05 832.29 L440.18 832.19 L441.30 832.09 L442.43 832.00 L443.55 831.90 L444.68 831.81 L445.80 831.71 L446.92 831.62 L448.05 831.53 L449.17 831.44 L450.30 831.35 L451.42 831.26 L452.54 831.17 L453.67 831.09 L454.79 831.00 L455.92 830.91 L457.04 830.83 L458.16 830.74 L459.29 830.66 L460.41 830.58 L461.54 830.50 L462.66 830.42 L463.79 830.34 L464.91 830.26 L466.03 830.18 L467.16 830.10 L468.28 830.02 L469.41 829.95 L470.53 829.87 L471.65 829.79 L472.78 829.72 L473.90 829.64 L475.03 829.57 L476.15 829.50" fill="none" stroke="#ff9896" stroke-width="5" stroke-linejoin="round"/>
<path d="M138.91 1297.22 L140.88 1266.75 L142.84 1241.61 L144.81 1220.21 L146.78 1201.60 L148.74 1185.12 L150.71 1170.36 L152.68 1156.99 L154.64 1144.77 L156.61 1133.54 L158.58 1123.14 L160.54 1113.46 L162.51 1104.42 L164.47 1095.94 L166.44 1087.95 L168.41 1080.41 L170.37 1073.27 L172.34 1066.50 L174.31 1060.05 L176.27 1053.91 L178.24 1048.05 L180.21 1042.44 L182.17 1037.07 L184.14 1031.92 L186.11 1026.97 L188.07 1022.21 L190.04 1017.64 L192.01 1013.22 L193.97 1008.97 L195.94 1004.87 L197.91 1000.90 L199.87 997.07 L201.84 993.36 L203.81 989.77 L205.77 986.29 L207.74 982.92 L209.71 979.65 L211.67 976.48 L213.64 973.40 L215.60 970.41 L217.57 967.50 L219.54 964.68 L221.50 961.93 L223.47 959.26 L225.44 956.66 L227.40 954.12 L229.37 951.66 L231.34 949.26 L233.30 946.91 L235.27 944.63 L237.24 942.41 L239.20 940.24 L241.17 938.12 L243.14 936.05 L245.10 934.04 L247.07 932.07 L249.04 930.15 L251.00 928.27 L252.97 926.44 L254.94 924.64 L256.90 922.89 L258.87 921.18 L260.84 919.51 L262.80 917.87 L264.77 916.27 L266.73 914.71 L268.70 913.18 L270.67 911.68 L272.63 910.22 L274.60 908.78 L276.57 907.38 L278.53 906.00 L280.50 904.66 L282.47 903.34 L284.43 902.05 L286.40 900.79 L288.37 899.55 L290.33 898.33 L292.30 897.15 L294.27 895.98 L296.23 894.84 L298.20 893.72 L300.17 892.62 L302.13 891.55 L304.10 890.49 L306.07 889.46 L308.03 888.45 L310.00 887.45 L311.97 886.48 L313.93 885.52 L315.90 884.58 L317.86 883.66 L319.83 882.76 L321.80 881.87 L323.76 881.00 L325.73 880.15 L327.70 879.31 L329.66 878.48 L331.63 877.68 L333.60 876.88 L335.56 876.10 L337.53 875.34 L339.50 874.59 L341.46 873.85 L343.43 873.12 L345.40 872.41 L347.36 871.71 L349.33 871.02 L351.30 870.35 L353.26 869.68 L355.23 869.03 L357.20 868.39 L359.16 867.76 L361.13 867.14 L363.10 866.53 L365.06 865.93 L367.03 865.35 L368.99 864.77 L370.96 864.20 L372.93 863.64 L374.89 863.09 L376.86 862.55 L378.83 862.01 L380.79 861.49 L382.76 860.98 L384.73 860.47 L386.69 859.97 L388.66 859.48 L390.63 859.00 L392.59 858.52 L394.56 858.05 L396.53 857.59 L398.49 857.14 L400.46 856.70 L402.43 856.26 L404.39 855.83 L406.36 855.40 L408.33 854.98 L410.29 854.57 L412.26 854.16 L414.23 853.76 L416.19 853.37 L418.16 852.98 L420.12 852.60 L422.09 852.23 L424.06 851.86 L426.02 851.49 L427.99 851.13 L429.96 850.78 L431.92 850.43 L433.89 850.08 L435.86 849.75 L437.82 849.41 L439.79 849.08 L441.76 848.76 L443.72 848.44 L445.69 848.12 L447.66 847.81 L449.62 847.51 L451.59 847.21 L453.56 846.91 L455.52 846.62 L457.49 846.33 L459.46 846.04 L461.42 845.76 L463.39 845.48 L465.36 845.21 L467.32 844.94 L469.29 844.68 L471.25 844.41 L473.22 844.15 L475.19 843.90 L477.15 843.65 L479.12 843.40 L481.09 843.16 L483.05 842.91 L485.02 842.68 L486.99 842.44 L488.95 842.21 L490.92 841.98 L492.89 841.75 L494.85 841.53 L496.82 841.31 L498.79 841.09 L500.75 840.88 L502.72 840.67 L504.69 840.46 L506.65 840.25 L508.62 840.05 L510.59 839.85 L512.55 839.65 L514.52 839.45 L516.49 839.26 L518.45 839.07 L520.42 838.88 L522.38 838.69 L524.35 838.51 L526.32 838.33 L528.28 838.15 L530.25 837.97 L532.22 837.79 L534.18 837.62 L536.15 837.45 L538.12 837.28 L540.08 837.11 L542.05 836.95 L544.02 836.79 L545.98 836.63 L547.95 836.47 L549.92 836.31 L551.88 836.15 L553.85 836.00 L555.82 835.85 L557.78 835.70 L559.75 835.55 L561.72 835.41 L563.68 835.26 L565.65 835.12 L567.62 834.98 L569.58 834.84 L571.55 834.70 L573.51 834.56 L575.48 834.43 L577.45 834.29 L579.41 834.16 L581.38 834.03 L583.35 833.90 L585.31 833.78 L587.28 833.65 L589.25 833.52 L591.21 833.40 L593.18 833.28 L595.15 833.16 L597.11 833.04 L599.08 832.92 L601.05 832.81 L603.01 832.69 L604.98 832.58 L606.95 832.46 L608.91 832.35 L610.88 832.24 L612.85 832.13 L614.81 832.02 L616.78 831.92 L618.75 831.81 L620.71 831.71 L622.68 831.60 L624.64 831.50 L626.61 831.40 L628.58 831.30 L630.54 831.20 L632.51 831.10 L634.48 831.00 L636.44 830.91 L638.41 830.81 L640.38 830.72 L642.34 830.62 L644.31 830.53 L646.28 830.44 L648.24 830.35 L650.21 830.26 L652.18 830.17 L654.14 830.08 L656.11 830.00 L658.08 829.91 L660.04 829.82 L662.01 829.74 L663.98 829.66 L665.94 829.57 L667.91 829.49 L669.88 829.41 L671.84 829.33 L673.81 829.25 L675.77 829.17 L677.74 829.09 L679.71 829.02 L681.67 828.94 L683.64 828.86 L685.61 828.79 L687.57 828.71 L689.54 828.64 L691.51 828.57 L693.47 828.50 L695.44 828.42 L697.41 828.35 L699.37 828.28 L701.34 828.21 L703.31 828.14 L705.27 828.08 L707.24 828.01 L709.21 827.94 L711.17 827.88 L713.14 827.81 L715.11 827.74 L717.07 827.68 L719.04 827.62 L721.01 827.55 L722.97 827.49 L724.94 827.43 L726.90 827.37 L728.87 827.30" fill="none" stroke="#dbdb8d" stroke-width="5" stroke-linejoin="round"/>
<path d="M172.55 1183.51 L175.21 1174.65 L177.88 1166.32 L180.54 1158.44 L183.20 1150.98 L185.87 1143.90 L188.53 1137.16 L191.19 1130.73 L193.86 1124.58 L196.52 1118.69 L199.18 1113.04 L201.84 1107.61 L204.51 1102.39 L207.17 1097.36 L209.83 1092.51 L212.50 1087.83 L215.16 1083.30 L217.82 1078.92 L220.49 1074.68 L223.15 1070.57 L225.81 1066.59 L228.48 1062.72 L231.14 1058.96 L233.80 1055.30 L236.47 1051.75 L239.13 1048.29 L241.79 1044.92 L244.46 1041.64 L247.12 1038.44 L249.78 1035.33 L252.44 1032.28 L255.11 1029.31 L257.77 1026.41 L260.43 1023.57 L263.10 1020.80 L265.76 1018.09 L268.42 1015.44 L271.09 1012.85 L273.75 1010.31 L276.41 1007.83 L279.08 1005.40 L281.74 1003.01 L284.40 1000.68 L287.07 998.39 L289.73 996.15 L292.39 993.94 L295.06 991.79 L297.72 989.67 L300.38 987.59 L303.05 985.55 L305.71 983.55 L308.37 981.59 L311.03 979.66 L313.70 977.76 L316.36 975.90 L319.02 974.07 L321.69 972.27 L324.35 970.50 L327.01 968.76 L329.68 967.05 L332.34 965.37 L335.00 963.72 L337.67 962.09 L340.33 960.49 L342.99 958.92 L345.66 957.37 L348.32 955.85 L350.98 954.35 L353.65 952.87 L356.31 951.42 L358.97 949.99 L361.63 948.58 L364.30 947.19 L366.96 945.82 L369.62 944.48 L372.29 943.15 L374.95 941.84 L377.61 940.56 L380.28 939.29 L382.94 938.04 L385.60 936.80 L388.27 935.59 L390.93 934.39 L393.59 933.21 L396.26 932.05 L398.92 930.90 L401.58 929.77 L404.25 928.66 L406.91 927.56 L409.57 926.47 L412.24 925.40 L414.90 924.35 L417.56 923.30 L420.22 922.28 L422.89 921.26 L425.55 920.26 L428.21 919.28 L430.88 918.31 L433.54 917.34 L436.20 916.40 L438.87 915.46 L441.53 914.54 L444.19 913.63 L446.86 912.73 L449.52 911.84 L452.18 910.96 L454.85 910.10 L457.51 909.24 L460.17 908.40 L462.84 907.57 L465.50 906.75 L468.16 905.93 L470.82 905.13 L473.49 904.34 L476.15 903.56 L478.81 902.78 L481.48 902.02 L484.14 901.27 L486.80 900.52 L489.47 899.79 L492.13 899.06 L494.79 898.34 L497.46 897.63 L500.12 896.93 L502.78 896.24 L505.45 895.56 L508.11 894.88 L510.77 894.21 L513.44 893.55 L516.10 892.90 L518.76 892.26 L521.42 891.62 L524.09 890.99 L526.75 890.37 L529.41 889.75 L532.08 889.14 L534.74 888.54 L537.40 887.95 L540.07 887.36 L542.73 886.78 L545.39 886.21 L548.06 885.64 L550.72 885.08 L553.38 884.52 L556.05 883.97 L558.71 883.43 L561.37 882.90 L564.04 882.37 L566.70 881.84 L569.36 881.32 L572.03 880.81 L574.69 880.30 L577.35 879.80 L580.01 879.30 L582.68 878.81 L585.34 878.33 L588.00 877.85 L590.67 877.37 L593.33 876.90 L595.99 876.44 L598.66 875.98 L601.32 875.52 L603.98 875.07 L606.65 874.63 L609.31 874.19 L611.97 873.75 L614.64 873.32 L617.30 872.89 L619.96 872.47 L622.63 872.05 L625.29 871.64 L627.95 871.23 L630.61 870.82 L633.28 870.42 L635.94 870.03 L638.60 869.63 L641.27 869.25 L643.93 868.86 L646.59 868.48 L649.26 868.10 L651.92 867.73 L654.58 867.36 L657.25 867.00 L659.91 866.64 L662.57 866.28 L665.24 865.92 L667.90 865.57 L670.56 865.23 L673.23 864.88 L675.89 864.54 L678.55 864.21 L681.21 863.87 L683.88 863.54 L686.54 863.21 L689.20 862.89 L691.87 862.57 L694.53 862.25 L697.19 861.94 L699.86 861.63 L702.52 861.32 L705.18 861.01 L707.85 860.71 L710.51 860.41 L713.17 860.11 L715.84 859.82 L718.50 859.53 L721.16 859.24 L723.83 858.96 L726.49 858.67 L729.15 858.39 L731.82 858.12 L734.48 857.84 L737.14 857.57 L739.80 857.30 L742.47 857.03 L745.13 856.77 L747.79 856.51 L750.46 856.25 L753.12 855.99 L755.78 855.73 L758.45 855.48 L761.11 855.23 L763.77 854.98 L766.44 854.74 L769.10 854.49 L771.76 854.25 L774.43 854.01 L777.09 853.78 L779.75 853.54 L782.42 853.31 L785.08 853.08 L787.74 852.85 L790.40 852.62 L793.07 852.40 L795.73 852.18 L798.39 851.96 L801.06 851.74 L803.72 851.52 L806.38 851.31 L809.05 851.10 L811.71 850.89 L814.37 850.68 L817.04 850.47 L819.70 850.26 L822.36 850.06 L825.03 849.86 L827.69 849.66 L830.35 849.46 L833.02 849.27 L835.68 849.07 L838.34 848.88 L841.00 848.69 L843.67 848.50 L846.33 848.31 L848.99 848.12 L851.66 847.94 L854.32 847.75 L856.98 847.57 L859.65 847.39 L862.31 847.21 L864.97 847.04 L867.64 846.86 L870.30 846.69 L872.96 846.51 L875.63 846.34 L878.29 846.17 L880.95 846.00 L883.62 845.84 L886.28 845.67 L888.94 845.51 L891.61 845.34 L894.27 845.18 L896.93 845.02 L899.59 844.86 L902.26 844.70 L904.92 844.55 L907.58 844.39 L910.25 844.24 L912.91 844.09 L915.57 843.93 L918.24 843.78 L920.90 843.64 L923.56 843.49 L926.23 843.34 L928.89 843.20 L931.55 843.05 L934.22 842.91 L936.88 842.77 L939.54 842.63 L942.21 842.49 L944.87 842.35 L947.53 842.21 L950.19 842.07 L952.86 841.94 L955.52 841.80 L958.18 841.67 L960.85 841.54 L963.51 841.41 L966.17 841.28 L968.84 841.15 L971.50 841.02" fill="none" stroke="#c49c94" stroke-width="5" stroke-linejoin="round"/>
<path d="M172.55 1296.68 L175.21 1287.78 L177.88 1279.39 L180.54 1271.46 L183.20 1263.95 L185.87 1256.80 L188.53 1250.00 L191.19 1243.50 L193.86 1237.28 L196.52 1231.32 L199.18 1225.60 L201.84 1220.09 L204.51 1214.79 L207.17 1209.68 L209.83 1204.74 L212.50 1199.97 L215.16 1195.36 L217.82 1190.88 L220.49 1186.55 L223.15 1182.34 L225.81 1178.25 L228.48 1174.28 L231.14 1170.41 L233.80 1166.65 L236.47 1162.98 L239.13 1159.41 L241.79 1155.92 L244.46 1152.52 L247.12 1149.20 L249.78 1145.96 L252.44 1142.79 L255.11 1139.68 L257.77 1136.65 L260.43 1133.68 L263.10 1130.77 L265.76 1127.92 L268.42 1125.13 L271.09 1122.40 L273.75 1119.71 L276.41 1117.08 L279.08 1114.50 L281.74 1111.96 L284.40 1109.47 L287.07 1107.02 L289.73 1104.62 L292.39 1102.26 L295.06 1099.94 L297.72 1097.65 L300.38 1095.41 L303.05 1093.20 L305.71 1091.02 L308.37 1088.88 L311.03 1086.78 L313.70 1084.70 L316.36 1082.66 L319.02 1080.65 L321.69 1078.67 L324.35 1076.71 L327.01 1074.79 L329.68 1072.89 L332.34 1071.02 L335.00 1069.18 L337.67 1067.36 L340.33 1065.56 L342.99 1063.79 L345.66 1062.04 L348.32 1060.32 L350.98 1058.62 L353.65 1056.94 L356.31 1055.28 L358.97 1053.64 L361.63 1052.02 L364.30 1050.43 L366.96 1048.85 L369.62 1047.29 L372.29 1045.75 L374.95 1044.23 L377.61 1042.72 L380.28 1041.24 L382.94 1039.77 L385.60 1038.32 L388.27 1036.88 L390.93 1035.46 L393.59 1034.06 L396.26 1032.67 L398.92 1031.30 L401.58 1029.94 L404.25 1028.60 L406.91 1027.27 L409.57 1025.95 L412.24 1024.65 L414.90 1023.37 L417.56 1022.09 L420.22 1020.83 L422.89 1019.59 L425.55 1018.35 L428.21 1017.13 L430.88 1015.92 L433.54 1014.72 L436.20 1013.53 L438.87 1012.36 L441.53 1011.20 L444.19 1010.05 L446.86 1008.90 L449.52 1007.77 L452.18 1006.66 L454.85 1005.55 L457.51 1004.45 L460.17 1003.36 L462.84 1002.28 L465.50 1001.22 L468.16 1000.16 L470.82 999.11 L473.49 998.07 L476.15 997.04 L478.81 996.02 L481.48 995.01 L484.14 994.01 L486.80 993.02 L489.47 992.03 L492.13 991.06 L494.79 990.09 L497.46 989.13 L500.12 988.18 L502.78 987.24 L505.45 986.30 L508.11 985.37 L510.77 984.46 L513.44 983.54 L516.10 982.64 L518.76 981.74 L521.42 980.86 L524.09 979.97 L526.75 979.10 L529.41 978.23 L532.08 977.37 L534.74 976.52 L537.40 975.67 L540.07 974.83 L542.73 974.00 L545.39 973.17 L548.06 972.35 L550.72 971.54 L553.38 970.73 L556.05 969.93 L558.71 969.14 L561.37 968.35 L564.04 967.57 L566.70 966.79 L569.36 966.02 L572.03 965.26 L574.69 964.50 L577.35 963.74 L580.01 963.00 L582.68 962.25 L585.34 961.52 L588.00 960.79 L590.67 960.06 L593.33 959.34 L595.99 958.63 L598.66 957.92 L601.32 957.21 L603.98 956.51 L606.65 955.82 L609.31 955.13 L611.97 954.45 L614.64 953.77 L617.30 953.09 L619.96 952.42 L622.63 951.76 L625.29 951.10 L627.95 950.44 L630.61 949.79 L633.28 949.15 L635.94 948.51 L638.60 947.87 L641.27 947.24 L643.93 946.61 L646.59 945.98 L649.26 945.36 L651.92 944.75 L654.58 944.14 L657.25 943.53 L659.91 942.93 L662.57 942.33 L665.24 941.73 L667.90 941.14 L670.56 940.56 L673.23 939.97 L675.89 939.39 L678.55 938.82 L681.21 938.25 L683.88 937.68 L686.54 937.12 L689.20 936.56 L691.87 936.00 L694.53 935.45 L697.19 934.90 L699.86 934.35 L702.52 933.81 L705.18 933.27 L707.85 932.74 L710.51 932.21 L713.17 931.68 L715.84 931.15 L718.50 930.63 L721.16 930.12 L723.83 929.60 L726.49 929.09 L729.15 928.58 L731.82 928.08 L734.48 927.58 L737.14 927.08 L739.80 926.58 L742.47 926.09 L745.13 925.60 L747.79 925.12 L750.46 924.63 L753.12 924.15 L755.78 923.68 L758.45 923.20 L761.11 922.73 L763.77 922.26 L766.44 921.80 L769.10 921.34 L771.76 920.88 L774.43 920.42 L777.09 919.97 L779.75 919.51 L782.42 919.07 L785.08 918.62 L787.74 918.18 L790.40 917.74 L793.07 917.30 L795.73 916.86 L798.39 916.43 L801.06 916.00 L803.72 915.58 L806.38 915.15 L809.05 914.73 L811.71 914.31 L814.37 913.89 L817.04 913.48 L819.70 913.07 L822.36 912.66 L825.03 912.25 L827.69 911.84 L830.35 911.44 L833.02 911.04 L835.68 910.64 L838.34 910.25 L841.00 909.85 L843.67 909.46 L846.33 909.08 L848.99 908.69 L851.66 908.30 L854.32 907.92 L856.98 907.54 L859.65 907.17 L862.31 906.79 L864.97 906.42 L867.64 906.05 L870.30 905.68 L872.96 905.31 L875.63 904.95 L878.29 904.58 L880.95 904.22 L883.62 903.86 L886.28 903.51 L888.94 903.15 L891.61 902.80 L894.27 902.45 L896.93 902.10 L899.59 901.76 L902.26 901.41 L904.92 901.07 L907.58 900.73 L910.25 900.39 L912.91 900.05 L915.57 899.72 L918.24 899.38 L920.90 899.05 L923.56 898.72 L926.23 898.40 L928.89 898.07 L931.55 897.75 L934.22 897.42 L936.88 897.10 L939.54 896.78 L942.21 896.47 L944.87 896.15 L947.53 895.84 L950.19 895.53 L952.86 895.22 L955.52 894.91 L958.18 894.60 L960.85 894.30 L963.51 893.99 L966.17 893.69 L968.84 893.39 L971.50 893.09" fill="none" stroke="#aec7e8" stroke-width="5" stroke-linejoin="round"/>
<path d="M138.91 1174.37 V1185.41 M128.01 1174.37 H149.81 M128.01 1185.41 H149.81" stroke="#407ab2" stroke-width="2.3" fill="none"/>
<rect x="132.91" y="1173.89" width="12.00" height="12.00" fill="#407ab2"/>
<path d="M147.32 1037.60 V1041.95 M136.42 1037.60 H158.22 M136.42 1041.95 H158.22" stroke="#407ab2" stroke-width="2.3" fill="none"/>
<rect x="141.32" y="1033.78" width="12.00" height="12.00" fill="#407ab2"/>
<path d="M155.73 970.97 V973.48 M144.83 970.97 H166.63 M144.83 973.48 H166.63" stroke="#407ab2" stroke-width="2.3" fill="none"/>
<rect x="149.73" y="966.23" width="12.00" height="12.00" fill="#407ab2"/>
<path d="M164.14 935.69 V938.20 M153.24 935.69 H175.04 M153.24 938.20 H175.04" stroke="#407ab2" stroke-width="2.3" fill="none"/>
<rect x="158.14" y="930.95" width="12.00" height="12.00" fill="#407ab2"/>
<path d="M172.55 897.66 V904.34 M161.65 897.66 H183.45 M161.65 904.34 H183.45" stroke="#407ab2" stroke-width="2.3" fill="none"/>
<rect x="166.55" y="895.00" width="12.00" height="12.00" fill="#407ab2"/>
<path d="M180.96 879.35 V881.86 M170.06 879.35 H191.86 M170.06 881.86 H191.86" stroke="#407ab2" stroke-width="2.3" fill="none"/>
<rect x="174.96" y="874.60" width="12.00" height="12.00" fill="#407ab2"/>
<path d="M189.37 864.13 V866.64 M178.47 864.13 H200.27 M178.47 866.64 H200.27" stroke="#407ab2" stroke-width="2.3" fill="none"/>
<rect x="183.37" y="859.39" width="12.00" height="12.00" fill="#407ab2"/>
<path d="M197.78 849.92 V852.43 M186.88 849.92 H208.68 M186.88 852.43 H208.68" stroke="#407ab2" stroke-width="2.3" fill="none"/>
<rect x="191.78" y="845.17" width="12.00" height="12.00" fill="#407ab2"/>
<path d="M206.19 840.89 V843.40 M195.29 840.89 H217.09 M195.29 843.40 H217.09" stroke="#407ab2" stroke-width="2.3" fill="none"/>
<rect x="200.19" y="836.15" width="12.00" height="12.00" fill="#407ab2"/>
<path d="M214.60 833.37 V835.88 M203.70 833.37 H225.50 M203.70 835.88 H225.50" stroke="#407ab2" stroke-width="2.3" fill="none"/>
<rect x="208.60" y="828.62" width="12.00" height="12.00" fill="#407ab2"/>
<path d="M223.01 822.83 V825.34 M212.11 822.83 H233.91 M212.11 825.34 H233.91" stroke="#407ab2" stroke-width="2.3" fill="none"/>
<rect x="217.01" y="818.09" width="12.00" height="12.00" fill="#407ab2"/>
<path d="M265.06 822.50 V825.01 M254.16 822.50 H275.96 M254.16 825.01 H275.96" stroke="#407ab2" stroke-width="2.3" fill="none"/>
<rect x="259.06" y="817.75" width="12.00" height="12.00" fill="#407ab2"/>
<path d="M307.11 821.66 V824.17 M296.21 821.66 H318.01 M296.21 824.17 H318.01" stroke="#407ab2" stroke-width="2.3" fill="none"/>
<rect x="301.11" y="816.92" width="12.00" height="12.00" fill="#407ab2"/>
<path d="M349.16 810.38 V824.42 M338.26 810.38 H360.06 M338.26 824.42 H360.06" stroke="#407ab2" stroke-width="2.3" fill="none"/>
<rect x="343.16" y="811.40" width="12.00" height="12.00" fill="#407ab2"/>
<path d="M138.91 1248.78 V1270.51 M128.01 1248.78 H149.81 M128.01 1270.51 H149.81" stroke="#ee9146" stroke-width="2.3" fill="none"/>
<circle cx="138.91" cy="1259.64" r="6.50" fill="#ee9146"/>
<path d="M147.32 1127.22 V1139.59 M136.42 1127.22 H158.22 M136.42 1139.59 H158.22" stroke="#ee9146" stroke-width="2.3" fill="none"/>
<circle cx="147.32" cy="1133.41" r="6.50" fill="#ee9146"/>
<path d="M155.73 1054.57 V1057.08 M144.83 1054.57 H166.63 M144.83 1057.08 H166.63" stroke="#ee9146" stroke-width="2.3" fill="none"/>
<circle cx="155.73" cy="1055.83" r="6.50" fill="#ee9146"/>
<path d="M164.14 1000.57 V1003.08 M153.24 1000.57 H175.04 M153.24 1003.08 H175.04" stroke="#ee9146" stroke-width="2.3" fill="none"/>
<circle cx="164.14" cy="1001.82" r="6.50" fill="#ee9146"/>
<path d="M172.55 960.61 V963.11 M161.65 960.61 H183.45 M161.65 963.11 H183.45" stroke="#ee9146" stroke-width="2.3" fill="none"/>
<circle cx="172.55" cy="961.86" r="6.50" fill="#ee9146"/>
<path d="M180.96 934.19 V936.70 M170.06 934.19 H191.86 M170.06 936.70 H191.86" stroke="#ee9146" stroke-width="2.3" fill="none"/>
<circle cx="180.96" cy="935.44" r="6.50" fill="#ee9146"/>
<path d="M189.37 909.19 V912.20 M178.47 909.19 H200.27 M178.47 912.20 H200.27" stroke="#ee9146" stroke-width="2.3" fill="none"/>
<circle cx="189.37" cy="910.70" r="6.50" fill="#ee9146"/>
<path d="M197.78 889.71 V892.22 M186.88 889.71 H208.68 M186.88 892.22 H208.68" stroke="#ee9146" stroke-width="2.3" fill="none"/>
<circle cx="197.78" cy="890.97" r="6.50" fill="#ee9146"/>
<path d="M206.19 875.50 V878.01 M195.29 875.50 H217.09 M195.29 878.01 H217.09" stroke="#ee9146" stroke-width="2.3" fill="none"/>
<circle cx="206.19" cy="876.76" r="6.50" fill="#ee9146"/>
<path d="M214.60 863.21 V881.27 M203.70 863.21 H225.50 M203.70 881.27 H225.50" stroke="#ee9146" stroke-width="2.3" fill="none"/>
<circle cx="214.60" cy="872.24" r="6.50" fill="#ee9146"/>
<path d="M223.01 840.89 V843.40 M212.11 840.89 H233.91 M212.11 843.40 H233.91" stroke="#ee9146" stroke-width="2.3" fill="none"/>
<circle cx="223.01" cy="842.15" r="6.50" fill="#ee9146"/>
<path d="M265.06 818.07 V821.08 M254.16 818.07 H275.96 M254.16 821.08 H275.96" stroke="#ee9146" stroke-width="2.3" fill="none"/>
<circle cx="265.06" cy="819.57" r="6.50" fill="#ee9146"/>
<path d="M307.11 816.15 V818.65 M296.21 816.15 H318.01 M296.21 818.65 H318.01" stroke="#ee9146" stroke-width="2.3" fill="none"/>
<circle cx="307.11" cy="817.40" r="6.50" fill="#ee9146"/>
<path d="M349.16 814.89 V824.92 M338.26 814.89 H360.06 M338.26 824.92 H360.06" stroke="#ee9146" stroke-width="2.3" fill="none"/>
<circle cx="349.16" cy="819.91" r="6.50" fill="#ee9146"/>
<path d="M391.21 819.49 V822.00 M380.31 819.49 H402.11 M380.31 822.00 H402.11" stroke="#ee9146" stroke-width="2.3" fill="none"/>
<circle cx="391.21" cy="820.74" r="6.50" fill="#ee9146"/>
<path d="M147.32 1217.01 V1240.42 M136.42 1217.01 H158.22 M136.42 1240.42 H158.22" stroke="#ff9896" stroke-width="2.3" fill="none"/>
<path d="M147.32 1219.47 L139.32 1233.33 L155.32 1233.33 Z" fill="#ff9896"/>
<path d="M155.73 1147.20 V1149.71 M144.83 1147.20 H166.63 M144.83 1149.71 H166.63" stroke="#ff9896" stroke-width="2.3" fill="none"/>
<path d="M155.73 1139.22 L147.73 1153.08 L163.73 1153.08 Z" fill="#ff9896"/>
<path d="M164.14 1089.10 V1094.12 M153.24 1089.10 H175.04 M153.24 1094.12 H175.04" stroke="#ff9896" stroke-width="2.3" fill="none"/>
<path d="M164.14 1082.37 L156.14 1096.23 L172.14 1096.23 Z" fill="#ff9896"/>
<path d="M172.55 1046.21 V1048.72 M161.65 1046.21 H183.45 M161.65 1048.72 H183.45" stroke="#ff9896" stroke-width="2.3" fill="none"/>
<path d="M172.55 1038.23 L164.55 1052.09 L180.55 1052.09 Z" fill="#ff9896"/>
<path d="M180.96 1008.84 V1017.20 M170.06 1008.84 H191.86 M170.06 1017.20 H191.86" stroke="#ff9896" stroke-width="2.3" fill="none"/>
<path d="M180.96 1003.78 L172.96 1017.64 L188.96 1017.64 Z" fill="#ff9896"/>
<path d="M189.37 982.34 V984.85 M178.47 982.34 H200.27 M178.47 984.85 H200.27" stroke="#ff9896" stroke-width="2.3" fill="none"/>
<path d="M189.37 974.36 L181.37 988.22 L197.37 988.22 Z" fill="#ff9896"/>
<path d="M197.78 959.10 V961.61 M186.88 959.10 H208.68 M186.88 961.61 H208.68" stroke="#ff9896" stroke-width="2.3" fill="none"/>
<path d="M197.78 951.12 L189.78 964.98 L205.78 964.98 Z" fill="#ff9896"/>
<path d="M206.19 936.28 V939.29 M195.29 936.28 H217.09 M195.29 939.29 H217.09" stroke="#ff9896" stroke-width="2.3" fill="none"/>
<path d="M206.19 928.54 L198.19 942.40 L214.19 942.40 Z" fill="#ff9896"/>
<path d="M214.60 917.64 V920.14 M203.70 917.64 H225.50 M203.70 920.14 H225.50" stroke="#ff9896" stroke-width="2.3" fill="none"/>
<path d="M214.60 909.65 L206.60 923.51 L222.60 923.51 Z" fill="#ff9896"/>
<path d="M223.01 891.39 V893.89 M212.11 891.39 H233.91 M212.11 893.89 H233.91" stroke="#ff9896" stroke-width="2.3" fill="none"/>
<path d="M223.01 883.40 L215.01 897.26 L231.01 897.26 Z" fill="#ff9896"/>
<path d="M265.06 841.73 V844.24 M254.16 841.73 H275.96 M254.16 844.24 H275.96" stroke="#ff9896" stroke-width="2.3" fill="none"/>
<path d="M265.06 833.74 L257.06 847.60 L273.06 847.60 Z" fill="#ff9896"/>
<path d="M307.11 820.74 V824.09 M296.21 820.74 H318.01 M296.21 824.09 H318.01" stroke="#ff9896" stroke-width="2.3" fill="none"/>
<path d="M307.11 813.18 L299.11 827.04 L315.11 827.04 Z" fill="#ff9896"/>
<path d="M349.16 815.06 V819.74 M338.26 815.06 H360.06 M338.26 819.74 H360.06" stroke="#ff9896" stroke-width="2.3" fill="none"/>
<path d="M349.16 808.16 L341.16 822.02 L357.16 822.02 Z" fill="#ff9896"/>
<path d="M391.21 815.39 V819.41 M380.31 815.39 H402.11 M380.31 819.41 H402.11" stroke="#ff9896" stroke-width="2.3" fill="none"/>
<path d="M391.21 808.16 L383.21 822.02 L399.21 822.02 Z" fill="#ff9896"/>
<path d="M433.26 816.40 V819.41 M422.36 816.40 H444.16 M422.36 819.41 H444.16" stroke="#ff9896" stroke-width="2.3" fill="none"/>
<path d="M433.26 808.66 L425.26 822.52 L441.26 822.52 Z" fill="#ff9896"/>
<path d="M475.31 816.40 V819.41 M464.41 816.40 H486.21 M464.41 819.41 H486.21" stroke="#ff9896" stroke-width="2.3" fill="none"/>
<path d="M475.31 808.66 L467.31 822.52 L483.31 822.52 Z" fill="#ff9896"/>
<path d="M147.32 1276.53 V1283.22 M136.42 1276.53 H158.22 M136.42 1283.22 H158.22" stroke="#dbdb8d" stroke-width="2.3" fill="none"/>
<path d="M147.32 1289.12 L139.32 1275.26 L155.32 1275.26 Z" fill="#dbdb8d"/>
<path d="M155.73 1201.12 V1206.14 M144.83 1201.12 H166.63 M144.83 1206.14 H166.63" stroke="#dbdb8d" stroke-width="2.3" fill="none"/>
<path d="M155.73 1212.87 L147.73 1199.01 L163.73 1199.01 Z" fill="#dbdb8d"/>
<path d="M164.14 1157.65 V1162.67 M153.24 1157.65 H175.04 M153.24 1162.67 H175.04" stroke="#dbdb8d" stroke-width="2.3" fill="none"/>
<path d="M164.14 1169.40 L156.14 1155.54 L172.14 1155.54 Z" fill="#dbdb8d"/>
<path d="M172.55 1114.85 V1133.58 M161.65 1114.85 H183.45 M161.65 1133.58 H183.45" stroke="#dbdb8d" stroke-width="2.3" fill="none"/>
<path d="M172.55 1133.45 L164.55 1119.59 L180.55 1119.59 Z" fill="#dbdb8d"/>
<path d="M180.96 1087.01 V1089.52 M170.06 1087.01 H191.86 M170.06 1089.52 H191.86" stroke="#dbdb8d" stroke-width="2.3" fill="none"/>
<path d="M180.96 1097.50 L172.96 1083.64 L188.96 1083.64 Z" fill="#dbdb8d"/>
<path d="M189.37 1047.30 V1059.00 M178.47 1047.30 H200.27 M178.47 1059.00 H200.27" stroke="#dbdb8d" stroke-width="2.3" fill="none"/>
<path d="M189.37 1062.39 L181.37 1048.53 L197.37 1048.53 Z" fill="#dbdb8d"/>
<path d="M197.78 1022.97 V1025.48 M186.88 1022.97 H208.68 M186.88 1025.48 H208.68" stroke="#dbdb8d" stroke-width="2.3" fill="none"/>
<path d="M197.78 1033.47 L189.78 1019.61 L205.78 1019.61 Z" fill="#dbdb8d"/>
<path d="M206.19 998.06 V1000.57 M195.29 998.06 H217.09 M195.29 1000.57 H217.09" stroke="#dbdb8d" stroke-width="2.3" fill="none"/>
<path d="M206.19 1008.55 L198.19 994.69 L214.19 994.69 Z" fill="#dbdb8d"/>
<path d="M223.01 967.96 V970.47 M212.11 967.96 H233.91 M212.11 970.47 H233.91" stroke="#dbdb8d" stroke-width="2.3" fill="none"/>
<path d="M223.01 978.46 L215.01 964.60 L231.01 964.60 Z" fill="#dbdb8d"/>
<path d="M265.06 910.95 V913.46 M254.16 910.95 H275.96 M254.16 913.46 H275.96" stroke="#dbdb8d" stroke-width="2.3" fill="none"/>
<path d="M265.06 921.44 L257.06 907.58 L273.06 907.58 Z" fill="#dbdb8d"/>
<path d="M307.11 864.63 V867.14 M296.21 864.63 H318.01 M296.21 867.14 H318.01" stroke="#dbdb8d" stroke-width="2.3" fill="none"/>
<path d="M307.11 875.13 L299.11 861.27 L315.11 861.27 Z" fill="#dbdb8d"/>
<path d="M349.16 842.90 V845.41 M338.26 842.90 H360.06 M338.26 845.41 H360.06" stroke="#dbdb8d" stroke-width="2.3" fill="none"/>
<path d="M349.16 853.39 L341.16 839.53 L357.16 839.53 Z" fill="#dbdb8d"/>
<path d="M391.21 832.87 V835.37 M380.31 832.87 H402.11 M380.31 835.37 H402.11" stroke="#dbdb8d" stroke-width="2.3" fill="none"/>
<path d="M391.21 843.36 L383.21 829.50 L399.21 829.50 Z" fill="#dbdb8d"/>
<path d="M433.26 824.51 V827.01 M422.36 824.51 H444.16 M422.36 827.01 H444.16" stroke="#dbdb8d" stroke-width="2.3" fill="none"/>
<path d="M433.26 835.00 L425.26 821.14 L441.26 821.14 Z" fill="#dbdb8d"/>
<path d="M475.31 820.33 V822.83 M464.41 820.33 H486.21 M464.41 822.83 H486.21" stroke="#dbdb8d" stroke-width="2.3" fill="none"/>
<path d="M475.31 830.82 L467.31 816.96 L483.31 816.96 Z" fill="#dbdb8d"/>
<path d="M517.36 817.82 V820.33 M506.46 817.82 H528.26 M506.46 820.33 H528.26" stroke="#dbdb8d" stroke-width="2.3" fill="none"/>
<path d="M517.36 828.31 L509.36 814.45 L525.36 814.45 Z" fill="#dbdb8d"/>
<path d="M559.41 816.98 V819.49 M548.51 816.98 H570.31 M548.51 819.49 H570.31" stroke="#dbdb8d" stroke-width="2.3" fill="none"/>
<path d="M559.41 827.48 L551.41 813.62 L567.41 813.62 Z" fill="#dbdb8d"/>
<path d="M643.51 816.98 V819.49 M632.61 816.98 H654.41 M632.61 819.49 H654.41" stroke="#dbdb8d" stroke-width="2.3" fill="none"/>
<path d="M643.51 827.48 L635.51 813.62 L651.51 813.62 Z" fill="#dbdb8d"/>
<path d="M727.61 819.49 V822.00 M716.71 819.49 H738.51 M716.71 822.00 H738.51" stroke="#dbdb8d" stroke-width="2.3" fill="none"/>
<path d="M727.61 829.98 L719.61 816.12 L735.61 816.12 Z" fill="#dbdb8d"/>
<path d="M172.55 1155.14 V1178.55 M161.65 1155.14 H183.45 M161.65 1178.55 H183.45" stroke="#c49c94" stroke-width="2.3" fill="none"/>
<path d="M172.55 1158.45 L181.05 1166.85 L172.55 1175.25 L164.05 1166.85 Z" fill="#c49c94"/>
<path d="M214.60 1073.22 V1093.28 M203.70 1073.22 H225.50 M203.70 1093.28 H225.50" stroke="#c49c94" stroke-width="2.3" fill="none"/>
<path d="M214.60 1074.85 L223.10 1083.25 L214.60 1091.65 L206.10 1083.25 Z" fill="#c49c94"/>
<path d="M223.01 1052.32 V1070.71 M212.11 1052.32 H233.91 M212.11 1070.71 H233.91" stroke="#c49c94" stroke-width="2.3" fill="none"/>
<path d="M223.01 1053.11 L231.51 1061.51 L223.01 1069.91 L214.51 1061.51 Z" fill="#c49c94"/>
<path d="M307.11 979.83 V982.34 M296.21 979.83 H318.01 M296.21 982.34 H318.01" stroke="#c49c94" stroke-width="2.3" fill="none"/>
<path d="M307.11 972.69 L315.61 981.09 L307.11 989.49 L298.61 981.09 Z" fill="#c49c94"/>
<path d="M391.21 938.70 V941.21 M380.31 938.70 H402.11 M380.31 941.21 H402.11" stroke="#c49c94" stroke-width="2.3" fill="none"/>
<path d="M391.21 931.56 L399.71 939.96 L391.21 948.36 L382.71 939.96 Z" fill="#c49c94"/>
<path d="M475.31 909.19 V912.20 M464.41 909.19 H486.21 M464.41 912.20 H486.21" stroke="#c49c94" stroke-width="2.3" fill="none"/>
<path d="M475.31 902.30 L483.81 910.70 L475.31 919.10 L466.81 910.70 Z" fill="#c49c94"/>
<path d="M559.41 885.78 V888.79 M548.51 885.78 H570.31 M548.51 888.79 H570.31" stroke="#c49c94" stroke-width="2.3" fill="none"/>
<path d="M559.41 878.89 L567.91 887.29 L559.41 895.69 L550.91 887.29 Z" fill="#c49c94"/>
<path d="M643.51 867.64 V870.15 M632.61 867.64 H654.41 M632.61 870.15 H654.41" stroke="#c49c94" stroke-width="2.3" fill="none"/>
<path d="M643.51 860.50 L652.01 868.90 L643.51 877.30 L635.01 868.90 Z" fill="#c49c94"/>
<path d="M727.61 855.02 V857.70 M716.71 855.02 H738.51 M716.71 857.70 H738.51" stroke="#c49c94" stroke-width="2.3" fill="none"/>
<path d="M727.61 847.96 L736.11 856.36 L727.61 864.76 L719.11 856.36 Z" fill="#c49c94"/>
<path d="M811.71 850.34 V853.01 M800.81 850.34 H822.61 M800.81 853.01 H822.61" stroke="#c49c94" stroke-width="2.3" fill="none"/>
<path d="M811.71 843.28 L820.21 851.68 L811.71 860.08 L803.21 851.68 Z" fill="#c49c94"/>
<path d="M895.81 844.15 V845.82 M884.91 844.15 H906.71 M884.91 845.82 H906.71" stroke="#c49c94" stroke-width="2.3" fill="none"/>
<path d="M895.81 836.59 L904.31 844.99 L895.81 853.39 L887.31 844.99 Z" fill="#c49c94"/>
<path d="M172.55 1203.30 V1224.03 M161.65 1203.30 H183.45 M161.65 1224.03 H183.45" stroke="#aec7e8" stroke-width="2.3" fill="none"/>
<path d="M163.31 1213.66 L177.17 1205.66 L177.17 1221.66 Z" fill="#aec7e8"/>
<path d="M223.01 1135.50 V1138.01 M212.11 1135.50 H233.91 M212.11 1138.01 H233.91" stroke="#aec7e8" stroke-width="2.3" fill="none"/>
<path d="M213.77 1136.75 L227.63 1128.75 L227.63 1144.75 Z" fill="#aec7e8"/>
<path d="M307.11 1077.06 V1089.43 M296.21 1077.06 H318.01 M296.21 1089.43 H318.01" stroke="#aec7e8" stroke-width="2.3" fill="none"/>
<path d="M297.87 1083.25 L311.73 1075.25 L311.73 1091.25 Z" fill="#aec7e8"/>
<path d="M391.21 1044.29 V1061.01 M380.31 1044.29 H402.11 M380.31 1061.01 H402.11" stroke="#aec7e8" stroke-width="2.3" fill="none"/>
<path d="M381.97 1052.65 L395.83 1044.65 L395.83 1060.65 Z" fill="#aec7e8"/>
<path d="M475.31 1013.86 V1032.25 M464.41 1013.86 H486.21 M464.41 1032.25 H486.21" stroke="#aec7e8" stroke-width="2.3" fill="none"/>
<path d="M466.07 1023.06 L479.93 1015.06 L479.93 1031.06 Z" fill="#aec7e8"/>
<path d="M559.41 997.98 V1007.34 M548.51 997.98 H570.31 M548.51 1007.34 H570.31" stroke="#aec7e8" stroke-width="2.3" fill="none"/>
<path d="M550.17 1002.66 L564.03 994.66 L564.03 1010.66 Z" fill="#aec7e8"/>
<path d="M643.51 963.37 V981.76 M632.61 963.37 H654.41 M632.61 981.76 H654.41" stroke="#aec7e8" stroke-width="2.3" fill="none"/>
<path d="M634.27 972.56 L648.13 964.56 L648.13 980.56 Z" fill="#aec7e8"/>
<path d="M727.61 933.27 V947.65 M716.71 933.27 H738.51 M716.71 947.65 H738.51" stroke="#aec7e8" stroke-width="2.3" fill="none"/>
<path d="M718.37 940.46 L732.23 932.46 L732.23 948.46 Z" fill="#aec7e8"/>
<path d="M811.71 916.72 V923.40 M800.81 916.72 H822.61 M800.81 923.40 H822.61" stroke="#aec7e8" stroke-width="2.3" fill="none"/>
<path d="M802.47 920.06 L816.33 912.06 L816.33 928.06 Z" fill="#aec7e8"/>
<path d="M895.81 900.33 V902.00 M884.91 900.33 H906.71 M884.91 902.00 H906.71" stroke="#aec7e8" stroke-width="2.3" fill="none"/>
<path d="M886.57 901.17 L900.43 893.17 L900.43 909.17 Z" fill="#aec7e8"/>
</g>
<rect x="130.50" y="775.50" width="841.00" height="585.25" fill="none" stroke="#000" stroke-width="5"/>
<rect x="133" y="814.90" width="12" height="5" fill="#000"/>
<rect x="133" y="982.10" width="12" height="5" fill="#000"/>
<rect x="133" y="1149.30" width="12" height="5" fill="#000"/>
<rect x="133" y="1316.50" width="12" height="5" fill="#000"/>
<rect x="133" y="898.50" width="5" height="5" fill="#000"/>
<rect x="133" y="1065.70" width="5" height="5" fill="#000"/>
<rect x="133" y="1232.90" width="5" height="5" fill="#000"/>
<rect x="296.20" y="1346.5" width="5" height="12" fill="#000"/>
<rect x="464.40" y="1346.5" width="5" height="12" fill="#000"/>
<rect x="632.60" y="1346.5" width="5" height="12" fill="#000"/>
<rect x="800.80" y="1346.5" width="5" height="12" fill="#000"/>
<rect x="212.10" y="1353.2" width="5" height="5.5" fill="#000"/>
<rect x="380.30" y="1353.2" width="5" height="5.5" fill="#000"/>
<rect x="548.50" y="1353.2" width="5" height="5.5" fill="#000"/>
<rect x="716.70" y="1353.2" width="5" height="5.5" fill="#000"/>
<rect x="884.90" y="1353.2" width="5" height="5.5" fill="#000"/>
<text x="114.70" y="828.60" font-family='"Liberation Serif", serif' font-size="37.40" text-anchor="end" fill="#000" font-weight="normal" font-style="normal" >0</text>
<text x="114.70" y="995.80" font-family='"Liberation Serif", serif' font-size="37.40" text-anchor="end" fill="#000" font-weight="normal" font-style="normal" >−10</text>
<text x="114.70" y="1163.00" font-family='"Liberation Serif", serif' font-size="37.40" text-anchor="end" fill="#000" font-weight="normal" font-style="normal" >−20</text>
<text x="114.70" y="1330.20" font-family='"Liberation Serif", serif' font-size="37.40" text-anchor="end" fill="#000" font-weight="normal" font-style="normal" >−30</text>
<text x="130.80" y="1405.60" font-family='"Liberation Serif", serif' font-size="37.40" text-anchor="middle" fill="#000" font-weight="normal" font-style="normal" >0</text>
<text x="299.00" y="1405.60" font-family='"Liberation Serif", serif' font-size="37.40" text-anchor="middle" fill="#000" font-weight="normal" font-style="normal" >20</text>
<text x="467.20" y="1405.60" font-family='"Liberation Serif", serif' font-size="37.40" text-anchor="middle" fill="#000" font-weight="normal" font-style="normal" >40</text>
<text x="635.40" y="1405.60" font-family='"Liberation Serif", serif' font-size="37.40" text-anchor="middle" fill="#000" font-weight="normal" font-style="normal" >60</text>
<text x="803.60" y="1405.60" font-family='"Liberation Serif", serif' font-size="37.40" text-anchor="middle" fill="#000" font-weight="normal" font-style="normal" >80</text>
<text x="971.80" y="1405.60" font-family='"Liberation Serif", serif' font-size="37.40" text-anchor="middle" fill="#000" font-weight="normal" font-style="normal" >100</text>
<text x="551.20" y="1469.60" font-family='"Liberation Serif", serif' font-size="39.70" text-anchor="middle" fill="#000" font-weight="normal" font-style="normal" >Frequency (kHz)</text>
<g transform="translate(39.20 1067.80) rotate(-90)">
<text x="0" y="0" font-family='"Liberation Serif", serif' font-size="41" text-anchor="middle" fill="#000">|<tspan font-style="italic">T</tspan>(<tspan font-style="italic" dx="7">f</tspan><tspan dx="8">)</tspan>| (dB)</text>
</g>
<text x="-1.00" y="812.40" font-family='"Liberation Serif", serif' font-size="58.00" text-anchor="start" fill="#000" font-weight="bold" font-style="normal" >b</text>
<rect x="444.70" y="1049.90" width="12.00" height="12.00" fill="#407ab2"/>
<text x="489.5" y="1067.80" font-family='"Liberation Serif", serif' font-size="35" fill="#000"><tspan font-style="italic">P</tspan><tspan font-size="24" dy="9">c</tspan><tspan dy="-9"> = 10mW</tspan></text>
<circle cx="450.70" cy="1107.00" r="6.50" fill="#ee9146"/>
<text x="489.5" y="1119.10" font-family='"Liberation Serif", serif' font-size="35" fill="#000"><tspan font-style="italic">P</tspan><tspan font-size="24" dy="9">c</tspan><tspan dy="-9"> = 20mW</tspan></text>
<path d="M450.70 1149.06 L442.70 1162.92 L458.70 1162.92 Z" fill="#ff9896"/>
<text x="489.5" y="1170.40" font-family='"Liberation Serif", serif' font-size="35" fill="#000"><tspan font-style="italic">P</tspan><tspan font-size="24" dy="9">c</tspan><tspan dy="-9"> = 40mW</tspan></text>
<path d="M450.70 1219.24 L442.70 1205.38 L458.70 1205.38 Z" fill="#dbdb8d"/>
<text x="489.5" y="1221.70" font-family='"Liberation Serif", serif' font-size="35" fill="#000"><tspan font-style="italic">P</tspan><tspan font-size="24" dy="9">c</tspan><tspan dy="-9"> = 90mW</tspan></text>
<path d="M450.70 1253.00 L459.20 1261.40 L450.70 1269.80 L442.20 1261.40 Z" fill="#c49c94"/>
<text x="489.5" y="1273.00" font-family='"Liberation Serif", serif' font-size="35" fill="#000"><tspan font-style="italic">P</tspan><tspan font-size="24" dy="9">c</tspan><tspan dy="-9"> = 20<tspan word-spacing="1.8"> mW, green LED applied</tspan></tspan></text>
<path d="M441.46 1312.50 L455.32 1304.50 L455.32 1320.50 Z" fill="#aec7e8"/>
<text x="489.5" y="1324.30" font-family='"Liberation Serif", serif' font-size="35" fill="#000"><tspan font-style="italic">P</tspan><tspan font-size="24" dy="9">c</tspan><tspan dy="-9"> = 20<tspan word-spacing="1.8"> mW, blue LED applied</tspan></tspan></text>
</svg>
</body></html>
